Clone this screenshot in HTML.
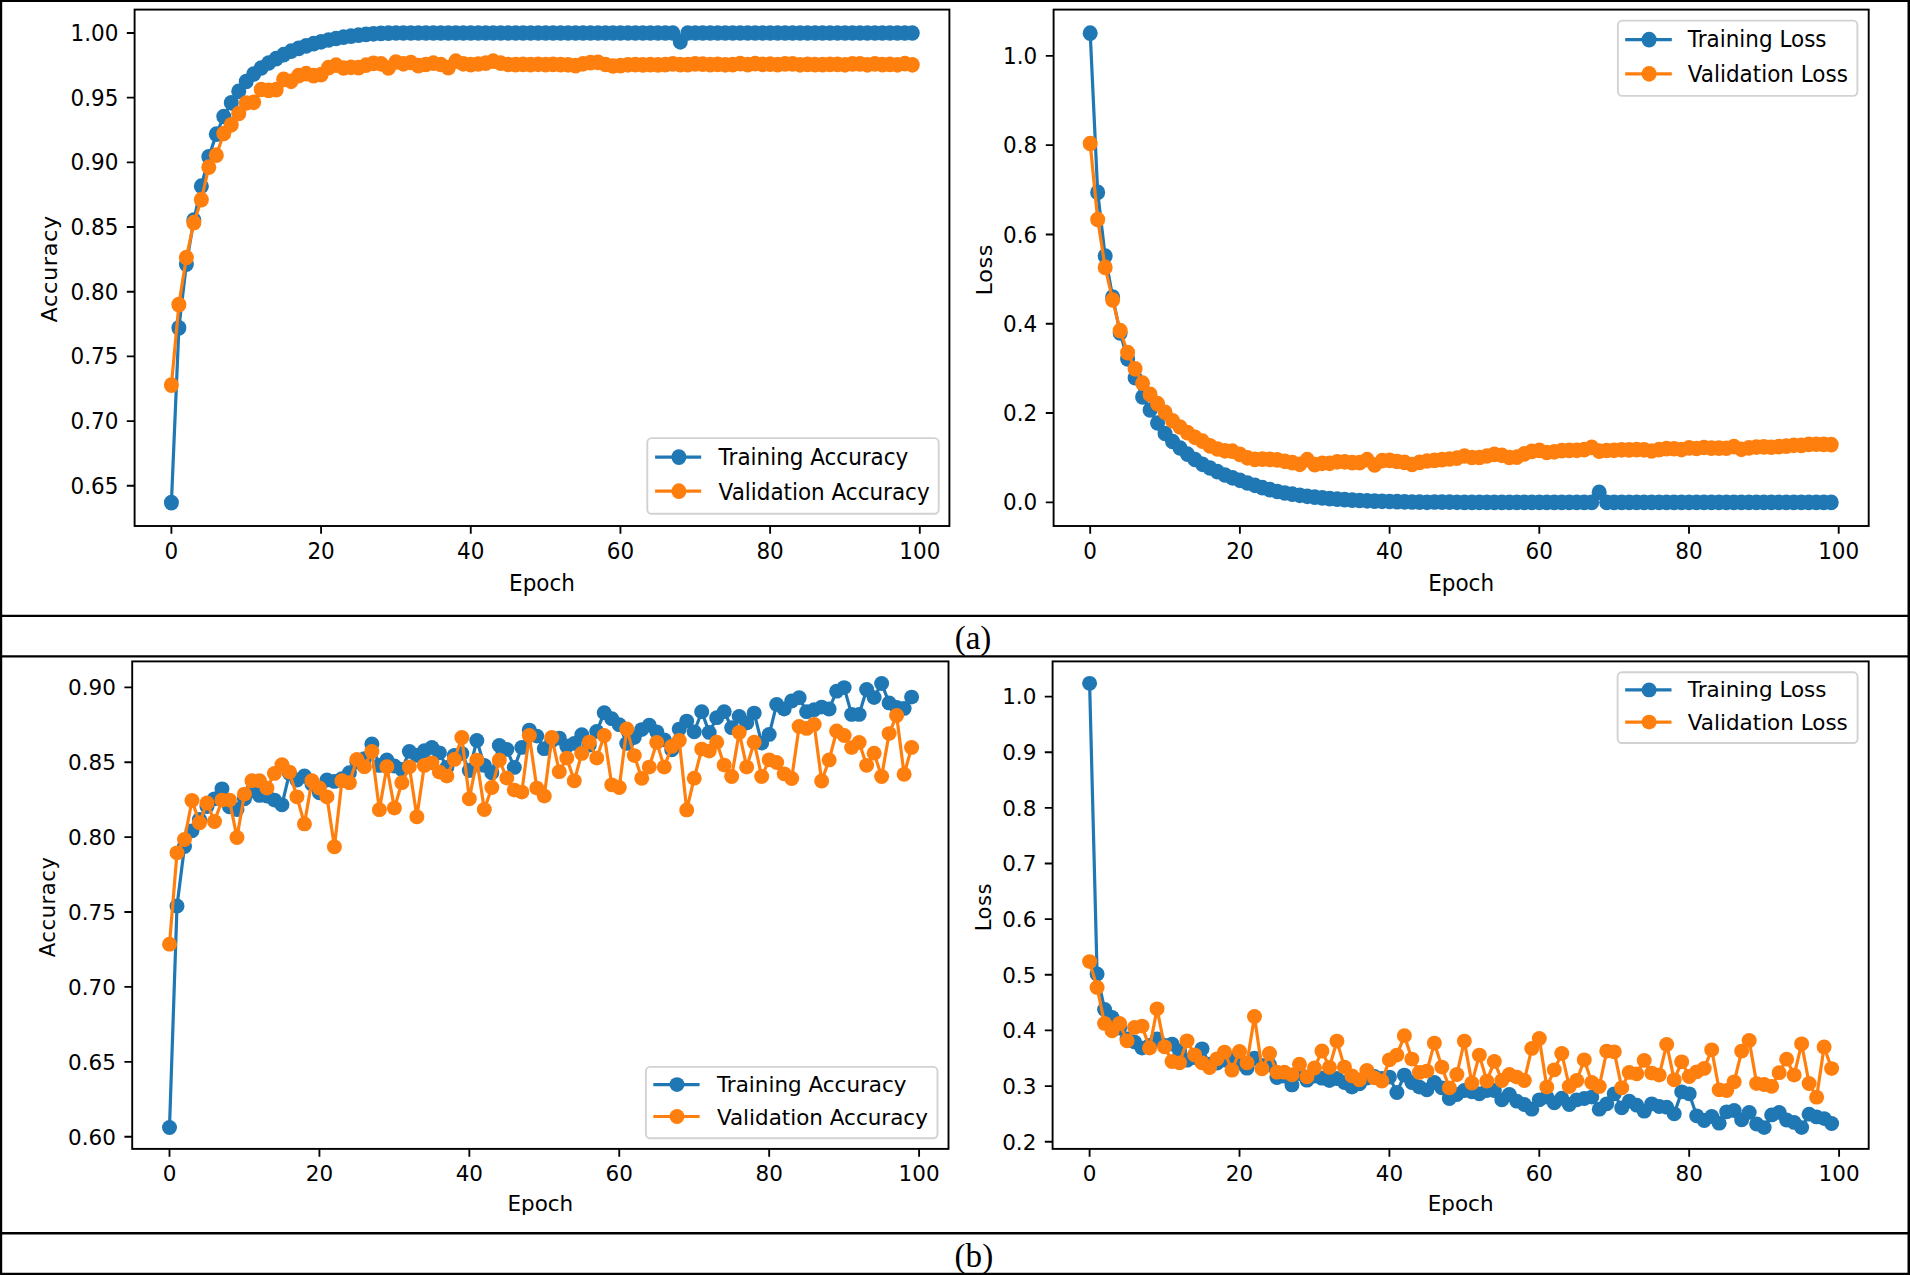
<!DOCTYPE html>
<html><head><meta charset="utf-8"><title>Training curves</title>
<style>html,body{margin:0;padding:0;background:#fff}svg{display:block}text{font-family:"DejaVu Sans","Liberation Sans",sans-serif;fill:#000}text.cap{font-family:"Liberation Serif","Times New Roman",serif}</style>
</head><body>
<svg width="1910" height="1275" viewBox="0 0 1910 1275">
<rect width="1910" height="1275" fill="#fff"/>
<g>
<g>
<polyline points="171.4,502.6 178.88,327.9 186.37,264.1 193.85,220 201.34,186.2 208.82,156.8 216.3,134.2 223.79,116.5 231.27,102.8 238.76,91.3 246.24,81.5 253.72,74 261.21,68 268.69,63 276.18,58.6 283.66,54.7 291.14,51.2 298.63,48.4 306.11,45.9 313.6,43.7 321.08,41.8 328.56,40 336.05,38.5 343.53,37.2 351.02,36.1 358.5,35.2 365.98,34.4 373.47,33.8 380.95,33.4 388.44,33.2 395.92,33 403.4,33 410.89,33 418.37,33 425.86,33 433.34,33 440.82,33 448.31,33 455.79,33 463.28,33 470.76,33 478.24,33 485.73,33 493.21,33 500.7,33 508.18,33 515.66,33 523.15,33 530.63,33 538.12,33 545.6,33 553.08,33 560.57,33 568.05,33 575.54,33 583.02,33 590.5,33 597.99,33 605.47,33 612.96,33 620.44,33 627.92,33 635.41,33 642.89,33 650.38,33 657.86,33 665.34,33 672.83,33 680.31,41.8 687.8,33 695.28,33 702.76,33 710.25,33 717.73,33 725.22,33 732.7,33 740.18,33 747.67,33 755.15,33 762.64,33 770.12,33 777.6,33 785.09,33 792.57,33 800.06,33 807.54,33 815.02,33 822.51,33 829.99,33 837.48,33 844.96,33 852.44,33 859.93,33 867.41,33 874.9,33 882.38,33 889.86,33 897.35,33 904.83,33 912.32,33" fill="none" stroke="#1f77b4" stroke-width="3.2" stroke-linejoin="round"/>
<g fill="#1f77b4"><ellipse cx="171.4" cy="502.6" rx="7.5" ry="7.85"/><ellipse cx="178.88" cy="327.9" rx="7.5" ry="7.85"/><ellipse cx="186.37" cy="264.1" rx="7.5" ry="7.85"/><ellipse cx="193.85" cy="220" rx="7.5" ry="7.85"/><ellipse cx="201.34" cy="186.2" rx="7.5" ry="7.85"/><ellipse cx="208.82" cy="156.8" rx="7.5" ry="7.85"/><ellipse cx="216.3" cy="134.2" rx="7.5" ry="7.85"/><ellipse cx="223.79" cy="116.5" rx="7.5" ry="7.85"/><ellipse cx="231.27" cy="102.8" rx="7.5" ry="7.85"/><ellipse cx="238.76" cy="91.3" rx="7.5" ry="7.85"/><ellipse cx="246.24" cy="81.5" rx="7.5" ry="7.85"/><ellipse cx="253.72" cy="74" rx="7.5" ry="7.85"/><ellipse cx="261.21" cy="68" rx="7.5" ry="7.85"/><ellipse cx="268.69" cy="63" rx="7.5" ry="7.85"/><ellipse cx="276.18" cy="58.6" rx="7.5" ry="7.85"/><ellipse cx="283.66" cy="54.7" rx="7.5" ry="7.85"/><ellipse cx="291.14" cy="51.2" rx="7.5" ry="7.85"/><ellipse cx="298.63" cy="48.4" rx="7.5" ry="7.85"/><ellipse cx="306.11" cy="45.9" rx="7.5" ry="7.85"/><ellipse cx="313.6" cy="43.7" rx="7.5" ry="7.85"/><ellipse cx="321.08" cy="41.8" rx="7.5" ry="7.85"/><ellipse cx="328.56" cy="40" rx="7.5" ry="7.85"/><ellipse cx="336.05" cy="38.5" rx="7.5" ry="7.85"/><ellipse cx="343.53" cy="37.2" rx="7.5" ry="7.85"/><ellipse cx="351.02" cy="36.1" rx="7.5" ry="7.85"/><ellipse cx="358.5" cy="35.2" rx="7.5" ry="7.85"/><ellipse cx="365.98" cy="34.4" rx="7.5" ry="7.85"/><ellipse cx="373.47" cy="33.8" rx="7.5" ry="7.85"/><ellipse cx="380.95" cy="33.4" rx="7.5" ry="7.85"/><ellipse cx="388.44" cy="33.2" rx="7.5" ry="7.85"/><ellipse cx="395.92" cy="33" rx="7.5" ry="7.85"/><ellipse cx="403.4" cy="33" rx="7.5" ry="7.85"/><ellipse cx="410.89" cy="33" rx="7.5" ry="7.85"/><ellipse cx="418.37" cy="33" rx="7.5" ry="7.85"/><ellipse cx="425.86" cy="33" rx="7.5" ry="7.85"/><ellipse cx="433.34" cy="33" rx="7.5" ry="7.85"/><ellipse cx="440.82" cy="33" rx="7.5" ry="7.85"/><ellipse cx="448.31" cy="33" rx="7.5" ry="7.85"/><ellipse cx="455.79" cy="33" rx="7.5" ry="7.85"/><ellipse cx="463.28" cy="33" rx="7.5" ry="7.85"/><ellipse cx="470.76" cy="33" rx="7.5" ry="7.85"/><ellipse cx="478.24" cy="33" rx="7.5" ry="7.85"/><ellipse cx="485.73" cy="33" rx="7.5" ry="7.85"/><ellipse cx="493.21" cy="33" rx="7.5" ry="7.85"/><ellipse cx="500.7" cy="33" rx="7.5" ry="7.85"/><ellipse cx="508.18" cy="33" rx="7.5" ry="7.85"/><ellipse cx="515.66" cy="33" rx="7.5" ry="7.85"/><ellipse cx="523.15" cy="33" rx="7.5" ry="7.85"/><ellipse cx="530.63" cy="33" rx="7.5" ry="7.85"/><ellipse cx="538.12" cy="33" rx="7.5" ry="7.85"/><ellipse cx="545.6" cy="33" rx="7.5" ry="7.85"/><ellipse cx="553.08" cy="33" rx="7.5" ry="7.85"/><ellipse cx="560.57" cy="33" rx="7.5" ry="7.85"/><ellipse cx="568.05" cy="33" rx="7.5" ry="7.85"/><ellipse cx="575.54" cy="33" rx="7.5" ry="7.85"/><ellipse cx="583.02" cy="33" rx="7.5" ry="7.85"/><ellipse cx="590.5" cy="33" rx="7.5" ry="7.85"/><ellipse cx="597.99" cy="33" rx="7.5" ry="7.85"/><ellipse cx="605.47" cy="33" rx="7.5" ry="7.85"/><ellipse cx="612.96" cy="33" rx="7.5" ry="7.85"/><ellipse cx="620.44" cy="33" rx="7.5" ry="7.85"/><ellipse cx="627.92" cy="33" rx="7.5" ry="7.85"/><ellipse cx="635.41" cy="33" rx="7.5" ry="7.85"/><ellipse cx="642.89" cy="33" rx="7.5" ry="7.85"/><ellipse cx="650.38" cy="33" rx="7.5" ry="7.85"/><ellipse cx="657.86" cy="33" rx="7.5" ry="7.85"/><ellipse cx="665.34" cy="33" rx="7.5" ry="7.85"/><ellipse cx="672.83" cy="33" rx="7.5" ry="7.85"/><ellipse cx="680.31" cy="41.8" rx="7.5" ry="7.85"/><ellipse cx="687.8" cy="33" rx="7.5" ry="7.85"/><ellipse cx="695.28" cy="33" rx="7.5" ry="7.85"/><ellipse cx="702.76" cy="33" rx="7.5" ry="7.85"/><ellipse cx="710.25" cy="33" rx="7.5" ry="7.85"/><ellipse cx="717.73" cy="33" rx="7.5" ry="7.85"/><ellipse cx="725.22" cy="33" rx="7.5" ry="7.85"/><ellipse cx="732.7" cy="33" rx="7.5" ry="7.85"/><ellipse cx="740.18" cy="33" rx="7.5" ry="7.85"/><ellipse cx="747.67" cy="33" rx="7.5" ry="7.85"/><ellipse cx="755.15" cy="33" rx="7.5" ry="7.85"/><ellipse cx="762.64" cy="33" rx="7.5" ry="7.85"/><ellipse cx="770.12" cy="33" rx="7.5" ry="7.85"/><ellipse cx="777.6" cy="33" rx="7.5" ry="7.85"/><ellipse cx="785.09" cy="33" rx="7.5" ry="7.85"/><ellipse cx="792.57" cy="33" rx="7.5" ry="7.85"/><ellipse cx="800.06" cy="33" rx="7.5" ry="7.85"/><ellipse cx="807.54" cy="33" rx="7.5" ry="7.85"/><ellipse cx="815.02" cy="33" rx="7.5" ry="7.85"/><ellipse cx="822.51" cy="33" rx="7.5" ry="7.85"/><ellipse cx="829.99" cy="33" rx="7.5" ry="7.85"/><ellipse cx="837.48" cy="33" rx="7.5" ry="7.85"/><ellipse cx="844.96" cy="33" rx="7.5" ry="7.85"/><ellipse cx="852.44" cy="33" rx="7.5" ry="7.85"/><ellipse cx="859.93" cy="33" rx="7.5" ry="7.85"/><ellipse cx="867.41" cy="33" rx="7.5" ry="7.85"/><ellipse cx="874.9" cy="33" rx="7.5" ry="7.85"/><ellipse cx="882.38" cy="33" rx="7.5" ry="7.85"/><ellipse cx="889.86" cy="33" rx="7.5" ry="7.85"/><ellipse cx="897.35" cy="33" rx="7.5" ry="7.85"/><ellipse cx="904.83" cy="33" rx="7.5" ry="7.85"/><ellipse cx="912.32" cy="33" rx="7.5" ry="7.85"/></g>
<polyline points="171.4,385.1 178.88,304.6 186.37,257.5 193.85,222.7 201.34,199.7 208.82,167.2 216.3,155.2 223.79,133.5 231.27,124.8 238.76,113.5 246.24,103 253.72,102.3 261.21,89.5 268.69,90.4 276.18,89.7 283.66,79.4 291.14,81.3 298.63,75.6 306.11,73.7 313.6,75.6 321.08,74.7 328.56,67.6 336.05,65.2 343.53,68 351.02,67.3 358.5,67.6 365.98,65.2 373.47,63.4 380.95,63.8 388.44,68 395.92,62 403.4,63.8 410.89,62.5 418.37,65.6 425.86,64.5 433.34,63.2 440.82,64.5 448.31,67.7 455.79,61.2 463.28,63.8 470.76,64.6 478.24,64 485.73,63.2 493.21,61.2 500.7,63.2 508.18,64.5 515.66,64.6 523.15,64.4 530.63,64.6 538.12,64.3 545.6,64.6 553.08,64.4 560.57,64.6 568.05,64.8 575.54,65.6 583.02,63.8 590.5,62.6 597.99,62.4 605.47,64.5 612.96,66 620.44,65.6 627.92,64.8 635.41,64.6 642.89,64.9 650.38,64.7 657.86,64.9 665.34,64.6 672.83,63.9 680.31,64.6 687.8,64.6 695.28,63.9 702.76,64.2 710.25,64.6 717.73,64.4 725.22,64.8 732.7,64.6 740.18,63.7 747.67,64.6 755.15,63.7 762.64,64.4 770.12,64.2 777.6,64.6 785.09,63.9 792.57,63.9 800.06,64.8 807.54,64.4 815.02,64.6 822.51,64.6 829.99,64.4 837.48,64.4 844.96,64.8 852.44,63.9 859.93,63.9 867.41,64.8 874.9,63.9 882.38,64.6 889.86,64.4 897.35,64.8 904.83,63.7 912.32,64.8" fill="none" stroke="#ff7f0e" stroke-width="3.2" stroke-linejoin="round"/>
<g fill="#ff7f0e"><ellipse cx="171.4" cy="385.1" rx="7.5" ry="7.85"/><ellipse cx="178.88" cy="304.6" rx="7.5" ry="7.85"/><ellipse cx="186.37" cy="257.5" rx="7.5" ry="7.85"/><ellipse cx="193.85" cy="222.7" rx="7.5" ry="7.85"/><ellipse cx="201.34" cy="199.7" rx="7.5" ry="7.85"/><ellipse cx="208.82" cy="167.2" rx="7.5" ry="7.85"/><ellipse cx="216.3" cy="155.2" rx="7.5" ry="7.85"/><ellipse cx="223.79" cy="133.5" rx="7.5" ry="7.85"/><ellipse cx="231.27" cy="124.8" rx="7.5" ry="7.85"/><ellipse cx="238.76" cy="113.5" rx="7.5" ry="7.85"/><ellipse cx="246.24" cy="103" rx="7.5" ry="7.85"/><ellipse cx="253.72" cy="102.3" rx="7.5" ry="7.85"/><ellipse cx="261.21" cy="89.5" rx="7.5" ry="7.85"/><ellipse cx="268.69" cy="90.4" rx="7.5" ry="7.85"/><ellipse cx="276.18" cy="89.7" rx="7.5" ry="7.85"/><ellipse cx="283.66" cy="79.4" rx="7.5" ry="7.85"/><ellipse cx="291.14" cy="81.3" rx="7.5" ry="7.85"/><ellipse cx="298.63" cy="75.6" rx="7.5" ry="7.85"/><ellipse cx="306.11" cy="73.7" rx="7.5" ry="7.85"/><ellipse cx="313.6" cy="75.6" rx="7.5" ry="7.85"/><ellipse cx="321.08" cy="74.7" rx="7.5" ry="7.85"/><ellipse cx="328.56" cy="67.6" rx="7.5" ry="7.85"/><ellipse cx="336.05" cy="65.2" rx="7.5" ry="7.85"/><ellipse cx="343.53" cy="68" rx="7.5" ry="7.85"/><ellipse cx="351.02" cy="67.3" rx="7.5" ry="7.85"/><ellipse cx="358.5" cy="67.6" rx="7.5" ry="7.85"/><ellipse cx="365.98" cy="65.2" rx="7.5" ry="7.85"/><ellipse cx="373.47" cy="63.4" rx="7.5" ry="7.85"/><ellipse cx="380.95" cy="63.8" rx="7.5" ry="7.85"/><ellipse cx="388.44" cy="68" rx="7.5" ry="7.85"/><ellipse cx="395.92" cy="62" rx="7.5" ry="7.85"/><ellipse cx="403.4" cy="63.8" rx="7.5" ry="7.85"/><ellipse cx="410.89" cy="62.5" rx="7.5" ry="7.85"/><ellipse cx="418.37" cy="65.6" rx="7.5" ry="7.85"/><ellipse cx="425.86" cy="64.5" rx="7.5" ry="7.85"/><ellipse cx="433.34" cy="63.2" rx="7.5" ry="7.85"/><ellipse cx="440.82" cy="64.5" rx="7.5" ry="7.85"/><ellipse cx="448.31" cy="67.7" rx="7.5" ry="7.85"/><ellipse cx="455.79" cy="61.2" rx="7.5" ry="7.85"/><ellipse cx="463.28" cy="63.8" rx="7.5" ry="7.85"/><ellipse cx="470.76" cy="64.6" rx="7.5" ry="7.85"/><ellipse cx="478.24" cy="64" rx="7.5" ry="7.85"/><ellipse cx="485.73" cy="63.2" rx="7.5" ry="7.85"/><ellipse cx="493.21" cy="61.2" rx="7.5" ry="7.85"/><ellipse cx="500.7" cy="63.2" rx="7.5" ry="7.85"/><ellipse cx="508.18" cy="64.5" rx="7.5" ry="7.85"/><ellipse cx="515.66" cy="64.6" rx="7.5" ry="7.85"/><ellipse cx="523.15" cy="64.4" rx="7.5" ry="7.85"/><ellipse cx="530.63" cy="64.6" rx="7.5" ry="7.85"/><ellipse cx="538.12" cy="64.3" rx="7.5" ry="7.85"/><ellipse cx="545.6" cy="64.6" rx="7.5" ry="7.85"/><ellipse cx="553.08" cy="64.4" rx="7.5" ry="7.85"/><ellipse cx="560.57" cy="64.6" rx="7.5" ry="7.85"/><ellipse cx="568.05" cy="64.8" rx="7.5" ry="7.85"/><ellipse cx="575.54" cy="65.6" rx="7.5" ry="7.85"/><ellipse cx="583.02" cy="63.8" rx="7.5" ry="7.85"/><ellipse cx="590.5" cy="62.6" rx="7.5" ry="7.85"/><ellipse cx="597.99" cy="62.4" rx="7.5" ry="7.85"/><ellipse cx="605.47" cy="64.5" rx="7.5" ry="7.85"/><ellipse cx="612.96" cy="66" rx="7.5" ry="7.85"/><ellipse cx="620.44" cy="65.6" rx="7.5" ry="7.85"/><ellipse cx="627.92" cy="64.8" rx="7.5" ry="7.85"/><ellipse cx="635.41" cy="64.6" rx="7.5" ry="7.85"/><ellipse cx="642.89" cy="64.9" rx="7.5" ry="7.85"/><ellipse cx="650.38" cy="64.7" rx="7.5" ry="7.85"/><ellipse cx="657.86" cy="64.9" rx="7.5" ry="7.85"/><ellipse cx="665.34" cy="64.6" rx="7.5" ry="7.85"/><ellipse cx="672.83" cy="63.9" rx="7.5" ry="7.85"/><ellipse cx="680.31" cy="64.6" rx="7.5" ry="7.85"/><ellipse cx="687.8" cy="64.6" rx="7.5" ry="7.85"/><ellipse cx="695.28" cy="63.9" rx="7.5" ry="7.85"/><ellipse cx="702.76" cy="64.2" rx="7.5" ry="7.85"/><ellipse cx="710.25" cy="64.6" rx="7.5" ry="7.85"/><ellipse cx="717.73" cy="64.4" rx="7.5" ry="7.85"/><ellipse cx="725.22" cy="64.8" rx="7.5" ry="7.85"/><ellipse cx="732.7" cy="64.6" rx="7.5" ry="7.85"/><ellipse cx="740.18" cy="63.7" rx="7.5" ry="7.85"/><ellipse cx="747.67" cy="64.6" rx="7.5" ry="7.85"/><ellipse cx="755.15" cy="63.7" rx="7.5" ry="7.85"/><ellipse cx="762.64" cy="64.4" rx="7.5" ry="7.85"/><ellipse cx="770.12" cy="64.2" rx="7.5" ry="7.85"/><ellipse cx="777.6" cy="64.6" rx="7.5" ry="7.85"/><ellipse cx="785.09" cy="63.9" rx="7.5" ry="7.85"/><ellipse cx="792.57" cy="63.9" rx="7.5" ry="7.85"/><ellipse cx="800.06" cy="64.8" rx="7.5" ry="7.85"/><ellipse cx="807.54" cy="64.4" rx="7.5" ry="7.85"/><ellipse cx="815.02" cy="64.6" rx="7.5" ry="7.85"/><ellipse cx="822.51" cy="64.6" rx="7.5" ry="7.85"/><ellipse cx="829.99" cy="64.4" rx="7.5" ry="7.85"/><ellipse cx="837.48" cy="64.4" rx="7.5" ry="7.85"/><ellipse cx="844.96" cy="64.8" rx="7.5" ry="7.85"/><ellipse cx="852.44" cy="63.9" rx="7.5" ry="7.85"/><ellipse cx="859.93" cy="63.9" rx="7.5" ry="7.85"/><ellipse cx="867.41" cy="64.8" rx="7.5" ry="7.85"/><ellipse cx="874.9" cy="63.9" rx="7.5" ry="7.85"/><ellipse cx="882.38" cy="64.6" rx="7.5" ry="7.85"/><ellipse cx="889.86" cy="64.4" rx="7.5" ry="7.85"/><ellipse cx="897.35" cy="64.8" rx="7.5" ry="7.85"/><ellipse cx="904.83" cy="63.7" rx="7.5" ry="7.85"/><ellipse cx="912.32" cy="64.8" rx="7.5" ry="7.85"/></g>
<path d="M171.4 526v7.8M321.08 526v7.8M470.76 526v7.8M620.44 526v7.8M770.12 526v7.8M919.8 526v7.8M134.6 485.72h-7.8M134.6 421.05h-7.8M134.6 356.38h-7.8M134.6 291.7h-7.8M134.6 227.02h-7.8M134.6 162.35h-7.8M134.6 97.67h-7.8M134.6 33h-7.8" stroke="#000" stroke-width="1.85" fill="none"/>
<rect x="134.6" y="9.6" width="814.8" height="516.4" fill="none" stroke="#000" stroke-width="1.9"/>
<text transform="translate(171.4,559) scale(1,1.04)" text-anchor="middle" font-size="21.5">0</text>
<text transform="translate(321.08,559) scale(1,1.04)" text-anchor="middle" font-size="21.5">20</text>
<text transform="translate(470.76,559) scale(1,1.04)" text-anchor="middle" font-size="21.5">40</text>
<text transform="translate(620.44,559) scale(1,1.04)" text-anchor="middle" font-size="21.5">60</text>
<text transform="translate(770.12,559) scale(1,1.04)" text-anchor="middle" font-size="21.5">80</text>
<text transform="translate(919.8,559) scale(1,1.04)" text-anchor="middle" font-size="21.5">100</text>
<text transform="translate(118.3,493.82) scale(1,1.04)" text-anchor="end" font-size="21.5">0.65</text>
<text transform="translate(118.3,429.15) scale(1,1.04)" text-anchor="end" font-size="21.5">0.70</text>
<text transform="translate(118.3,364.48) scale(1,1.04)" text-anchor="end" font-size="21.5">0.75</text>
<text transform="translate(118.3,299.8) scale(1,1.04)" text-anchor="end" font-size="21.5">0.80</text>
<text transform="translate(118.3,235.12) scale(1,1.04)" text-anchor="end" font-size="21.5">0.85</text>
<text transform="translate(118.3,170.45) scale(1,1.04)" text-anchor="end" font-size="21.5">0.90</text>
<text transform="translate(118.3,105.77) scale(1,1.04)" text-anchor="end" font-size="21.5">0.95</text>
<text transform="translate(118.3,41.1) scale(1,1.04)" text-anchor="end" font-size="21.5">1.00</text>
<text transform="translate(542,590.5) scale(1,1.04)" text-anchor="middle" font-size="21.5">Epoch</text>
<text transform="translate(56.7,268.8) scale(1,1.04) rotate(-90)" text-anchor="middle" font-size="21.5" letter-spacing="0.65">Accuracy</text>
<rect x="647.3" y="438.1" width="291.4" height="75.7" rx="4.3" ry="4.3" fill="#fff" fill-opacity="0.8" stroke="#d2d2d2" stroke-width="1.9"/>
<path d="M655.1 457.1H701.2" stroke="#1f77b4" stroke-width="3.2"/>
<ellipse cx="678.9" cy="457.1" rx="7.5" ry="7.85" fill="#1f77b4"/>
<text transform="translate(718.6,465.3) scale(1,1.04)" text-anchor="start" font-size="21.5">Training Accuracy</text>
<path d="M655.1 491.2H701.2" stroke="#ff7f0e" stroke-width="3.2"/>
<ellipse cx="678.9" cy="491.2" rx="7.5" ry="7.85" fill="#ff7f0e"/>
<text transform="translate(718.6,499.5) scale(1,1.04)" text-anchor="start" font-size="21.5">Validation Accuracy</text>
</g>
<g>
<polyline points="1090.2,33.2 1097.68,192.4 1105.17,256.1 1112.65,297 1120.14,333 1127.62,358.9 1135.11,377.7 1142.6,397 1150.08,410 1157.57,423 1165.05,433.5 1172.54,441.5 1180.02,448 1187.51,454.2 1194.99,459.5 1202.48,464.3 1209.96,468 1217.45,471.7 1224.93,475 1232.41,477.8 1239.9,480.3 1247.38,483 1254.87,485.3 1262.36,487.7 1269.84,489.6 1277.33,491.5 1284.81,493 1292.3,494.2 1299.78,495.3 1307.27,496.3 1314.75,497.2 1322.24,497.9 1329.72,498.6 1337.21,499.2 1344.69,499.7 1352.18,500.1 1359.66,500.5 1367.14,500.8 1374.63,501.1 1382.12,501.3 1389.6,501.5 1397.09,501.7 1404.57,501.9 1412.06,502 1419.54,502.2 1427.03,502.3 1434.51,502 1442,502.1 1449.48,502.2 1456.97,502.3 1464.45,502.4 1471.93,502.4 1479.42,502.4 1486.91,502.4 1494.39,502.4 1501.88,502.4 1509.36,502.4 1516.85,502.4 1524.33,502.4 1531.82,502.4 1539.3,502.4 1546.79,502.4 1554.27,502.4 1561.76,502.4 1569.24,502.4 1576.73,502.4 1584.21,502.4 1591.7,502.4 1599.18,492.3 1606.66,502.4 1614.15,502.4 1621.64,502.4 1629.12,502.4 1636.61,502.4 1644.09,502.4 1651.58,502.4 1659.06,502.4 1666.55,502.4 1674.03,502.4 1681.52,502.4 1689,502.4 1696.49,502.4 1703.97,502.4 1711.45,502.4 1718.94,502.4 1726.43,502.4 1733.91,502.4 1741.39,502.4 1748.88,502.4 1756.37,502.4 1763.85,502.4 1771.34,502.4 1778.82,502.4 1786.31,502.4 1793.79,502.4 1801.28,502.4 1808.76,502.4 1816.25,502.4 1823.73,502.4 1831.22,502.4" fill="none" stroke="#1f77b4" stroke-width="3.2" stroke-linejoin="round"/>
<g fill="#1f77b4"><ellipse cx="1090.2" cy="33.2" rx="7.5" ry="7.85"/><ellipse cx="1097.68" cy="192.4" rx="7.5" ry="7.85"/><ellipse cx="1105.17" cy="256.1" rx="7.5" ry="7.85"/><ellipse cx="1112.65" cy="297" rx="7.5" ry="7.85"/><ellipse cx="1120.14" cy="333" rx="7.5" ry="7.85"/><ellipse cx="1127.62" cy="358.9" rx="7.5" ry="7.85"/><ellipse cx="1135.11" cy="377.7" rx="7.5" ry="7.85"/><ellipse cx="1142.6" cy="397" rx="7.5" ry="7.85"/><ellipse cx="1150.08" cy="410" rx="7.5" ry="7.85"/><ellipse cx="1157.57" cy="423" rx="7.5" ry="7.85"/><ellipse cx="1165.05" cy="433.5" rx="7.5" ry="7.85"/><ellipse cx="1172.54" cy="441.5" rx="7.5" ry="7.85"/><ellipse cx="1180.02" cy="448" rx="7.5" ry="7.85"/><ellipse cx="1187.51" cy="454.2" rx="7.5" ry="7.85"/><ellipse cx="1194.99" cy="459.5" rx="7.5" ry="7.85"/><ellipse cx="1202.48" cy="464.3" rx="7.5" ry="7.85"/><ellipse cx="1209.96" cy="468" rx="7.5" ry="7.85"/><ellipse cx="1217.45" cy="471.7" rx="7.5" ry="7.85"/><ellipse cx="1224.93" cy="475" rx="7.5" ry="7.85"/><ellipse cx="1232.41" cy="477.8" rx="7.5" ry="7.85"/><ellipse cx="1239.9" cy="480.3" rx="7.5" ry="7.85"/><ellipse cx="1247.38" cy="483" rx="7.5" ry="7.85"/><ellipse cx="1254.87" cy="485.3" rx="7.5" ry="7.85"/><ellipse cx="1262.36" cy="487.7" rx="7.5" ry="7.85"/><ellipse cx="1269.84" cy="489.6" rx="7.5" ry="7.85"/><ellipse cx="1277.33" cy="491.5" rx="7.5" ry="7.85"/><ellipse cx="1284.81" cy="493" rx="7.5" ry="7.85"/><ellipse cx="1292.3" cy="494.2" rx="7.5" ry="7.85"/><ellipse cx="1299.78" cy="495.3" rx="7.5" ry="7.85"/><ellipse cx="1307.27" cy="496.3" rx="7.5" ry="7.85"/><ellipse cx="1314.75" cy="497.2" rx="7.5" ry="7.85"/><ellipse cx="1322.24" cy="497.9" rx="7.5" ry="7.85"/><ellipse cx="1329.72" cy="498.6" rx="7.5" ry="7.85"/><ellipse cx="1337.21" cy="499.2" rx="7.5" ry="7.85"/><ellipse cx="1344.69" cy="499.7" rx="7.5" ry="7.85"/><ellipse cx="1352.18" cy="500.1" rx="7.5" ry="7.85"/><ellipse cx="1359.66" cy="500.5" rx="7.5" ry="7.85"/><ellipse cx="1367.14" cy="500.8" rx="7.5" ry="7.85"/><ellipse cx="1374.63" cy="501.1" rx="7.5" ry="7.85"/><ellipse cx="1382.12" cy="501.3" rx="7.5" ry="7.85"/><ellipse cx="1389.6" cy="501.5" rx="7.5" ry="7.85"/><ellipse cx="1397.09" cy="501.7" rx="7.5" ry="7.85"/><ellipse cx="1404.57" cy="501.9" rx="7.5" ry="7.85"/><ellipse cx="1412.06" cy="502" rx="7.5" ry="7.85"/><ellipse cx="1419.54" cy="502.2" rx="7.5" ry="7.85"/><ellipse cx="1427.03" cy="502.3" rx="7.5" ry="7.85"/><ellipse cx="1434.51" cy="502" rx="7.5" ry="7.85"/><ellipse cx="1442" cy="502.1" rx="7.5" ry="7.85"/><ellipse cx="1449.48" cy="502.2" rx="7.5" ry="7.85"/><ellipse cx="1456.97" cy="502.3" rx="7.5" ry="7.85"/><ellipse cx="1464.45" cy="502.4" rx="7.5" ry="7.85"/><ellipse cx="1471.93" cy="502.4" rx="7.5" ry="7.85"/><ellipse cx="1479.42" cy="502.4" rx="7.5" ry="7.85"/><ellipse cx="1486.91" cy="502.4" rx="7.5" ry="7.85"/><ellipse cx="1494.39" cy="502.4" rx="7.5" ry="7.85"/><ellipse cx="1501.88" cy="502.4" rx="7.5" ry="7.85"/><ellipse cx="1509.36" cy="502.4" rx="7.5" ry="7.85"/><ellipse cx="1516.85" cy="502.4" rx="7.5" ry="7.85"/><ellipse cx="1524.33" cy="502.4" rx="7.5" ry="7.85"/><ellipse cx="1531.82" cy="502.4" rx="7.5" ry="7.85"/><ellipse cx="1539.3" cy="502.4" rx="7.5" ry="7.85"/><ellipse cx="1546.79" cy="502.4" rx="7.5" ry="7.85"/><ellipse cx="1554.27" cy="502.4" rx="7.5" ry="7.85"/><ellipse cx="1561.76" cy="502.4" rx="7.5" ry="7.85"/><ellipse cx="1569.24" cy="502.4" rx="7.5" ry="7.85"/><ellipse cx="1576.73" cy="502.4" rx="7.5" ry="7.85"/><ellipse cx="1584.21" cy="502.4" rx="7.5" ry="7.85"/><ellipse cx="1591.7" cy="502.4" rx="7.5" ry="7.85"/><ellipse cx="1599.18" cy="492.3" rx="7.5" ry="7.85"/><ellipse cx="1606.66" cy="502.4" rx="7.5" ry="7.85"/><ellipse cx="1614.15" cy="502.4" rx="7.5" ry="7.85"/><ellipse cx="1621.64" cy="502.4" rx="7.5" ry="7.85"/><ellipse cx="1629.12" cy="502.4" rx="7.5" ry="7.85"/><ellipse cx="1636.61" cy="502.4" rx="7.5" ry="7.85"/><ellipse cx="1644.09" cy="502.4" rx="7.5" ry="7.85"/><ellipse cx="1651.58" cy="502.4" rx="7.5" ry="7.85"/><ellipse cx="1659.06" cy="502.4" rx="7.5" ry="7.85"/><ellipse cx="1666.55" cy="502.4" rx="7.5" ry="7.85"/><ellipse cx="1674.03" cy="502.4" rx="7.5" ry="7.85"/><ellipse cx="1681.52" cy="502.4" rx="7.5" ry="7.85"/><ellipse cx="1689" cy="502.4" rx="7.5" ry="7.85"/><ellipse cx="1696.49" cy="502.4" rx="7.5" ry="7.85"/><ellipse cx="1703.97" cy="502.4" rx="7.5" ry="7.85"/><ellipse cx="1711.45" cy="502.4" rx="7.5" ry="7.85"/><ellipse cx="1718.94" cy="502.4" rx="7.5" ry="7.85"/><ellipse cx="1726.43" cy="502.4" rx="7.5" ry="7.85"/><ellipse cx="1733.91" cy="502.4" rx="7.5" ry="7.85"/><ellipse cx="1741.39" cy="502.4" rx="7.5" ry="7.85"/><ellipse cx="1748.88" cy="502.4" rx="7.5" ry="7.85"/><ellipse cx="1756.37" cy="502.4" rx="7.5" ry="7.85"/><ellipse cx="1763.85" cy="502.4" rx="7.5" ry="7.85"/><ellipse cx="1771.34" cy="502.4" rx="7.5" ry="7.85"/><ellipse cx="1778.82" cy="502.4" rx="7.5" ry="7.85"/><ellipse cx="1786.31" cy="502.4" rx="7.5" ry="7.85"/><ellipse cx="1793.79" cy="502.4" rx="7.5" ry="7.85"/><ellipse cx="1801.28" cy="502.4" rx="7.5" ry="7.85"/><ellipse cx="1808.76" cy="502.4" rx="7.5" ry="7.85"/><ellipse cx="1816.25" cy="502.4" rx="7.5" ry="7.85"/><ellipse cx="1823.73" cy="502.4" rx="7.5" ry="7.85"/><ellipse cx="1831.22" cy="502.4" rx="7.5" ry="7.85"/></g>
<polyline points="1090.2,143.5 1097.68,219.5 1105.17,267.4 1112.65,300 1120.14,330.6 1127.62,352.6 1135.11,368.8 1142.6,383.2 1150.08,394.4 1157.57,403.7 1165.05,412.3 1172.54,420.8 1180.02,427 1187.51,432.6 1194.99,437.3 1202.48,441.2 1209.96,445.9 1217.45,449 1224.93,450.8 1232.41,451.2 1239.9,454.4 1247.38,457.8 1254.87,459.4 1262.36,459.1 1269.84,459.4 1277.33,459.9 1284.81,461.3 1292.3,462.6 1299.78,464.3 1307.27,459.7 1314.75,464.6 1322.24,463.3 1329.72,463.3 1337.21,461.8 1344.69,461.8 1352.18,462.6 1359.66,462.6 1367.14,459.7 1374.63,465 1382.12,460.7 1389.6,460.4 1397.09,461.5 1404.57,462.4 1412.06,464.5 1419.54,462.4 1427.03,461 1434.51,460.4 1442,459.7 1449.48,459 1456.97,458.2 1464.45,456 1471.93,457.5 1479.42,457.5 1486.91,456 1494.39,454.4 1501.88,455.3 1509.36,457.5 1516.85,457.2 1524.33,453.9 1531.82,451.4 1539.3,450.4 1546.79,452.5 1554.27,451.8 1561.76,450.7 1569.24,450.4 1576.73,450.3 1584.21,449.7 1591.7,447.3 1599.18,451.1 1606.66,450.5 1614.15,450.3 1621.64,449.8 1629.12,449.9 1636.61,449.7 1644.09,449.8 1651.58,451 1659.06,449.6 1666.55,448.58 1674.03,448.77 1681.52,449.55 1689,447.93 1696.49,448.51 1703.97,447.5 1711.45,448.08 1718.94,448.16 1726.43,448.24 1733.91,446.6 1741.39,449.3 1748.88,447.89 1756.37,447.07 1763.85,446.86 1771.34,447.24 1778.82,446.72 1786.31,446.2 1793.79,445.29 1801.28,445.47 1808.76,444.45 1816.25,444.23 1823.73,444.42 1831.22,444.6" fill="none" stroke="#ff7f0e" stroke-width="3.2" stroke-linejoin="round"/>
<g fill="#ff7f0e"><ellipse cx="1090.2" cy="143.5" rx="7.5" ry="7.85"/><ellipse cx="1097.68" cy="219.5" rx="7.5" ry="7.85"/><ellipse cx="1105.17" cy="267.4" rx="7.5" ry="7.85"/><ellipse cx="1112.65" cy="300" rx="7.5" ry="7.85"/><ellipse cx="1120.14" cy="330.6" rx="7.5" ry="7.85"/><ellipse cx="1127.62" cy="352.6" rx="7.5" ry="7.85"/><ellipse cx="1135.11" cy="368.8" rx="7.5" ry="7.85"/><ellipse cx="1142.6" cy="383.2" rx="7.5" ry="7.85"/><ellipse cx="1150.08" cy="394.4" rx="7.5" ry="7.85"/><ellipse cx="1157.57" cy="403.7" rx="7.5" ry="7.85"/><ellipse cx="1165.05" cy="412.3" rx="7.5" ry="7.85"/><ellipse cx="1172.54" cy="420.8" rx="7.5" ry="7.85"/><ellipse cx="1180.02" cy="427" rx="7.5" ry="7.85"/><ellipse cx="1187.51" cy="432.6" rx="7.5" ry="7.85"/><ellipse cx="1194.99" cy="437.3" rx="7.5" ry="7.85"/><ellipse cx="1202.48" cy="441.2" rx="7.5" ry="7.85"/><ellipse cx="1209.96" cy="445.9" rx="7.5" ry="7.85"/><ellipse cx="1217.45" cy="449" rx="7.5" ry="7.85"/><ellipse cx="1224.93" cy="450.8" rx="7.5" ry="7.85"/><ellipse cx="1232.41" cy="451.2" rx="7.5" ry="7.85"/><ellipse cx="1239.9" cy="454.4" rx="7.5" ry="7.85"/><ellipse cx="1247.38" cy="457.8" rx="7.5" ry="7.85"/><ellipse cx="1254.87" cy="459.4" rx="7.5" ry="7.85"/><ellipse cx="1262.36" cy="459.1" rx="7.5" ry="7.85"/><ellipse cx="1269.84" cy="459.4" rx="7.5" ry="7.85"/><ellipse cx="1277.33" cy="459.9" rx="7.5" ry="7.85"/><ellipse cx="1284.81" cy="461.3" rx="7.5" ry="7.85"/><ellipse cx="1292.3" cy="462.6" rx="7.5" ry="7.85"/><ellipse cx="1299.78" cy="464.3" rx="7.5" ry="7.85"/><ellipse cx="1307.27" cy="459.7" rx="7.5" ry="7.85"/><ellipse cx="1314.75" cy="464.6" rx="7.5" ry="7.85"/><ellipse cx="1322.24" cy="463.3" rx="7.5" ry="7.85"/><ellipse cx="1329.72" cy="463.3" rx="7.5" ry="7.85"/><ellipse cx="1337.21" cy="461.8" rx="7.5" ry="7.85"/><ellipse cx="1344.69" cy="461.8" rx="7.5" ry="7.85"/><ellipse cx="1352.18" cy="462.6" rx="7.5" ry="7.85"/><ellipse cx="1359.66" cy="462.6" rx="7.5" ry="7.85"/><ellipse cx="1367.14" cy="459.7" rx="7.5" ry="7.85"/><ellipse cx="1374.63" cy="465" rx="7.5" ry="7.85"/><ellipse cx="1382.12" cy="460.7" rx="7.5" ry="7.85"/><ellipse cx="1389.6" cy="460.4" rx="7.5" ry="7.85"/><ellipse cx="1397.09" cy="461.5" rx="7.5" ry="7.85"/><ellipse cx="1404.57" cy="462.4" rx="7.5" ry="7.85"/><ellipse cx="1412.06" cy="464.5" rx="7.5" ry="7.85"/><ellipse cx="1419.54" cy="462.4" rx="7.5" ry="7.85"/><ellipse cx="1427.03" cy="461" rx="7.5" ry="7.85"/><ellipse cx="1434.51" cy="460.4" rx="7.5" ry="7.85"/><ellipse cx="1442" cy="459.7" rx="7.5" ry="7.85"/><ellipse cx="1449.48" cy="459" rx="7.5" ry="7.85"/><ellipse cx="1456.97" cy="458.2" rx="7.5" ry="7.85"/><ellipse cx="1464.45" cy="456" rx="7.5" ry="7.85"/><ellipse cx="1471.93" cy="457.5" rx="7.5" ry="7.85"/><ellipse cx="1479.42" cy="457.5" rx="7.5" ry="7.85"/><ellipse cx="1486.91" cy="456" rx="7.5" ry="7.85"/><ellipse cx="1494.39" cy="454.4" rx="7.5" ry="7.85"/><ellipse cx="1501.88" cy="455.3" rx="7.5" ry="7.85"/><ellipse cx="1509.36" cy="457.5" rx="7.5" ry="7.85"/><ellipse cx="1516.85" cy="457.2" rx="7.5" ry="7.85"/><ellipse cx="1524.33" cy="453.9" rx="7.5" ry="7.85"/><ellipse cx="1531.82" cy="451.4" rx="7.5" ry="7.85"/><ellipse cx="1539.3" cy="450.4" rx="7.5" ry="7.85"/><ellipse cx="1546.79" cy="452.5" rx="7.5" ry="7.85"/><ellipse cx="1554.27" cy="451.8" rx="7.5" ry="7.85"/><ellipse cx="1561.76" cy="450.7" rx="7.5" ry="7.85"/><ellipse cx="1569.24" cy="450.4" rx="7.5" ry="7.85"/><ellipse cx="1576.73" cy="450.3" rx="7.5" ry="7.85"/><ellipse cx="1584.21" cy="449.7" rx="7.5" ry="7.85"/><ellipse cx="1591.7" cy="447.3" rx="7.5" ry="7.85"/><ellipse cx="1599.18" cy="451.1" rx="7.5" ry="7.85"/><ellipse cx="1606.66" cy="450.5" rx="7.5" ry="7.85"/><ellipse cx="1614.15" cy="450.3" rx="7.5" ry="7.85"/><ellipse cx="1621.64" cy="449.8" rx="7.5" ry="7.85"/><ellipse cx="1629.12" cy="449.9" rx="7.5" ry="7.85"/><ellipse cx="1636.61" cy="449.7" rx="7.5" ry="7.85"/><ellipse cx="1644.09" cy="449.8" rx="7.5" ry="7.85"/><ellipse cx="1651.58" cy="451" rx="7.5" ry="7.85"/><ellipse cx="1659.06" cy="449.6" rx="7.5" ry="7.85"/><ellipse cx="1666.55" cy="448.58" rx="7.5" ry="7.85"/><ellipse cx="1674.03" cy="448.77" rx="7.5" ry="7.85"/><ellipse cx="1681.52" cy="449.55" rx="7.5" ry="7.85"/><ellipse cx="1689" cy="447.93" rx="7.5" ry="7.85"/><ellipse cx="1696.49" cy="448.51" rx="7.5" ry="7.85"/><ellipse cx="1703.97" cy="447.5" rx="7.5" ry="7.85"/><ellipse cx="1711.45" cy="448.08" rx="7.5" ry="7.85"/><ellipse cx="1718.94" cy="448.16" rx="7.5" ry="7.85"/><ellipse cx="1726.43" cy="448.24" rx="7.5" ry="7.85"/><ellipse cx="1733.91" cy="446.6" rx="7.5" ry="7.85"/><ellipse cx="1741.39" cy="449.3" rx="7.5" ry="7.85"/><ellipse cx="1748.88" cy="447.89" rx="7.5" ry="7.85"/><ellipse cx="1756.37" cy="447.07" rx="7.5" ry="7.85"/><ellipse cx="1763.85" cy="446.86" rx="7.5" ry="7.85"/><ellipse cx="1771.34" cy="447.24" rx="7.5" ry="7.85"/><ellipse cx="1778.82" cy="446.72" rx="7.5" ry="7.85"/><ellipse cx="1786.31" cy="446.2" rx="7.5" ry="7.85"/><ellipse cx="1793.79" cy="445.29" rx="7.5" ry="7.85"/><ellipse cx="1801.28" cy="445.47" rx="7.5" ry="7.85"/><ellipse cx="1808.76" cy="444.45" rx="7.5" ry="7.85"/><ellipse cx="1816.25" cy="444.23" rx="7.5" ry="7.85"/><ellipse cx="1823.73" cy="444.42" rx="7.5" ry="7.85"/><ellipse cx="1831.22" cy="444.6" rx="7.5" ry="7.85"/></g>
<path d="M1090.2 526v7.8M1239.9 526v7.8M1389.6 526v7.8M1539.3 526v7.8M1689 526v7.8M1838.7 526v7.8M1053.6 502.3h-7.8M1053.6 413.02h-7.8M1053.6 323.74h-7.8M1053.6 234.46h-7.8M1053.6 145.18h-7.8M1053.6 55.9h-7.8" stroke="#000" stroke-width="1.85" fill="none"/>
<rect x="1053.6" y="9.6" width="815.1" height="516.4" fill="none" stroke="#000" stroke-width="1.9"/>
<text transform="translate(1090.2,559) scale(1,1.04)" text-anchor="middle" font-size="21.5">0</text>
<text transform="translate(1239.9,559) scale(1,1.04)" text-anchor="middle" font-size="21.5">20</text>
<text transform="translate(1389.6,559) scale(1,1.04)" text-anchor="middle" font-size="21.5">40</text>
<text transform="translate(1539.3,559) scale(1,1.04)" text-anchor="middle" font-size="21.5">60</text>
<text transform="translate(1689,559) scale(1,1.04)" text-anchor="middle" font-size="21.5">80</text>
<text transform="translate(1838.7,559) scale(1,1.04)" text-anchor="middle" font-size="21.5">100</text>
<text transform="translate(1037.3,510.4) scale(1,1.04)" text-anchor="end" font-size="21.5">0.0</text>
<text transform="translate(1037.3,421.12) scale(1,1.04)" text-anchor="end" font-size="21.5">0.2</text>
<text transform="translate(1037.3,331.84) scale(1,1.04)" text-anchor="end" font-size="21.5">0.4</text>
<text transform="translate(1037.3,242.56) scale(1,1.04)" text-anchor="end" font-size="21.5">0.6</text>
<text transform="translate(1037.3,153.28) scale(1,1.04)" text-anchor="end" font-size="21.5">0.8</text>
<text transform="translate(1037.3,64) scale(1,1.04)" text-anchor="end" font-size="21.5">1.0</text>
<text transform="translate(1461.15,590.5) scale(1,1.04)" text-anchor="middle" font-size="21.5">Epoch</text>
<text transform="translate(991.8,269.8) scale(1,1.04) rotate(-90)" text-anchor="middle" font-size="21.5" letter-spacing="0.6">Loss</text>
<rect x="1617.9" y="20.6" width="239.5" height="75.3" rx="4.3" ry="4.3" fill="#fff" fill-opacity="0.8" stroke="#d2d2d2" stroke-width="1.9"/>
<path d="M1625.2 39.6H1671.8" stroke="#1f77b4" stroke-width="3.2"/>
<ellipse cx="1649.1" cy="39.6" rx="7.5" ry="7.85" fill="#1f77b4"/>
<text transform="translate(1687.8,46.7) scale(1,1.04)" text-anchor="start" font-size="21.5">Training Loss</text>
<path d="M1625.2 73.8H1671.8" stroke="#ff7f0e" stroke-width="3.2"/>
<ellipse cx="1649.1" cy="73.8" rx="7.5" ry="7.85" fill="#ff7f0e"/>
<text transform="translate(1687.8,81.5) scale(1,1.04)" text-anchor="start" font-size="21.5">Validation Loss</text>
</g>
<g>
<polyline points="169.5,1127.5 177,906 184.49,846.5 191.99,830.8 199.48,819.5 206.98,806.5 214.48,798.8 221.97,788.8 229.47,806.8 236.96,809.5 244.46,798.8 251.96,790.8 259.45,795.4 266.95,796 274.44,800.1 281.94,804.8 289.44,773.4 296.93,780 304.43,776 311.92,784 319.42,792.8 326.92,780 334.41,781.4 341.91,778.7 349.4,772.7 356.9,762 364.4,758.7 371.89,744 379.39,765.4 386.88,760 394.38,766 401.88,769.4 409.37,751.4 416.87,755.4 424.36,750.7 431.86,747.4 439.36,752.8 446.85,767.4 454.35,755.4 461.84,753.4 469.34,770.5 476.84,740.5 484.33,765.4 491.83,772.8 499.32,745.4 506.82,749.4 514.32,767.4 521.81,747.4 529.31,730.1 536.8,736.1 544.3,748.7 551.8,740.7 559.29,738.1 566.79,746.1 574.28,743.4 581.78,734.7 589.28,745 596.77,731.4 604.27,712.7 611.76,718.7 619.26,724.7 626.76,743.4 634.25,737.6 641.75,729.6 649.24,725.2 656.74,731.8 664.24,739.8 671.73,749.8 679.23,729.1 686.72,721.1 694.22,731.8 701.72,711.7 709.21,732.4 716.71,717.7 724.2,711.7 731.7,727.7 739.2,716.4 746.69,723.1 754.19,713.1 761.68,743.1 769.18,734.4 776.68,704.4 784.17,709.1 791.67,701 799.16,697.7 806.66,711.7 814.16,709.7 821.65,707.1 829.15,709 836.64,691.2 844.14,687.6 851.64,714.4 859.13,714.4 866.63,689.5 874.12,697.6 881.62,683.5 889.12,702.9 896.61,707.3 904.11,708.4 911.6,697.1" fill="none" stroke="#1f77b4" stroke-width="3.2" stroke-linejoin="round"/>
<g fill="#1f77b4"><ellipse cx="169.5" cy="1127.5" rx="7.5" ry="7.4"/><ellipse cx="177" cy="906" rx="7.5" ry="7.4"/><ellipse cx="184.49" cy="846.5" rx="7.5" ry="7.4"/><ellipse cx="191.99" cy="830.8" rx="7.5" ry="7.4"/><ellipse cx="199.48" cy="819.5" rx="7.5" ry="7.4"/><ellipse cx="206.98" cy="806.5" rx="7.5" ry="7.4"/><ellipse cx="214.48" cy="798.8" rx="7.5" ry="7.4"/><ellipse cx="221.97" cy="788.8" rx="7.5" ry="7.4"/><ellipse cx="229.47" cy="806.8" rx="7.5" ry="7.4"/><ellipse cx="236.96" cy="809.5" rx="7.5" ry="7.4"/><ellipse cx="244.46" cy="798.8" rx="7.5" ry="7.4"/><ellipse cx="251.96" cy="790.8" rx="7.5" ry="7.4"/><ellipse cx="259.45" cy="795.4" rx="7.5" ry="7.4"/><ellipse cx="266.95" cy="796" rx="7.5" ry="7.4"/><ellipse cx="274.44" cy="800.1" rx="7.5" ry="7.4"/><ellipse cx="281.94" cy="804.8" rx="7.5" ry="7.4"/><ellipse cx="289.44" cy="773.4" rx="7.5" ry="7.4"/><ellipse cx="296.93" cy="780" rx="7.5" ry="7.4"/><ellipse cx="304.43" cy="776" rx="7.5" ry="7.4"/><ellipse cx="311.92" cy="784" rx="7.5" ry="7.4"/><ellipse cx="319.42" cy="792.8" rx="7.5" ry="7.4"/><ellipse cx="326.92" cy="780" rx="7.5" ry="7.4"/><ellipse cx="334.41" cy="781.4" rx="7.5" ry="7.4"/><ellipse cx="341.91" cy="778.7" rx="7.5" ry="7.4"/><ellipse cx="349.4" cy="772.7" rx="7.5" ry="7.4"/><ellipse cx="356.9" cy="762" rx="7.5" ry="7.4"/><ellipse cx="364.4" cy="758.7" rx="7.5" ry="7.4"/><ellipse cx="371.89" cy="744" rx="7.5" ry="7.4"/><ellipse cx="379.39" cy="765.4" rx="7.5" ry="7.4"/><ellipse cx="386.88" cy="760" rx="7.5" ry="7.4"/><ellipse cx="394.38" cy="766" rx="7.5" ry="7.4"/><ellipse cx="401.88" cy="769.4" rx="7.5" ry="7.4"/><ellipse cx="409.37" cy="751.4" rx="7.5" ry="7.4"/><ellipse cx="416.87" cy="755.4" rx="7.5" ry="7.4"/><ellipse cx="424.36" cy="750.7" rx="7.5" ry="7.4"/><ellipse cx="431.86" cy="747.4" rx="7.5" ry="7.4"/><ellipse cx="439.36" cy="752.8" rx="7.5" ry="7.4"/><ellipse cx="446.85" cy="767.4" rx="7.5" ry="7.4"/><ellipse cx="454.35" cy="755.4" rx="7.5" ry="7.4"/><ellipse cx="461.84" cy="753.4" rx="7.5" ry="7.4"/><ellipse cx="469.34" cy="770.5" rx="7.5" ry="7.4"/><ellipse cx="476.84" cy="740.5" rx="7.5" ry="7.4"/><ellipse cx="484.33" cy="765.4" rx="7.5" ry="7.4"/><ellipse cx="491.83" cy="772.8" rx="7.5" ry="7.4"/><ellipse cx="499.32" cy="745.4" rx="7.5" ry="7.4"/><ellipse cx="506.82" cy="749.4" rx="7.5" ry="7.4"/><ellipse cx="514.32" cy="767.4" rx="7.5" ry="7.4"/><ellipse cx="521.81" cy="747.4" rx="7.5" ry="7.4"/><ellipse cx="529.31" cy="730.1" rx="7.5" ry="7.4"/><ellipse cx="536.8" cy="736.1" rx="7.5" ry="7.4"/><ellipse cx="544.3" cy="748.7" rx="7.5" ry="7.4"/><ellipse cx="551.8" cy="740.7" rx="7.5" ry="7.4"/><ellipse cx="559.29" cy="738.1" rx="7.5" ry="7.4"/><ellipse cx="566.79" cy="746.1" rx="7.5" ry="7.4"/><ellipse cx="574.28" cy="743.4" rx="7.5" ry="7.4"/><ellipse cx="581.78" cy="734.7" rx="7.5" ry="7.4"/><ellipse cx="589.28" cy="745" rx="7.5" ry="7.4"/><ellipse cx="596.77" cy="731.4" rx="7.5" ry="7.4"/><ellipse cx="604.27" cy="712.7" rx="7.5" ry="7.4"/><ellipse cx="611.76" cy="718.7" rx="7.5" ry="7.4"/><ellipse cx="619.26" cy="724.7" rx="7.5" ry="7.4"/><ellipse cx="626.76" cy="743.4" rx="7.5" ry="7.4"/><ellipse cx="634.25" cy="737.6" rx="7.5" ry="7.4"/><ellipse cx="641.75" cy="729.6" rx="7.5" ry="7.4"/><ellipse cx="649.24" cy="725.2" rx="7.5" ry="7.4"/><ellipse cx="656.74" cy="731.8" rx="7.5" ry="7.4"/><ellipse cx="664.24" cy="739.8" rx="7.5" ry="7.4"/><ellipse cx="671.73" cy="749.8" rx="7.5" ry="7.4"/><ellipse cx="679.23" cy="729.1" rx="7.5" ry="7.4"/><ellipse cx="686.72" cy="721.1" rx="7.5" ry="7.4"/><ellipse cx="694.22" cy="731.8" rx="7.5" ry="7.4"/><ellipse cx="701.72" cy="711.7" rx="7.5" ry="7.4"/><ellipse cx="709.21" cy="732.4" rx="7.5" ry="7.4"/><ellipse cx="716.71" cy="717.7" rx="7.5" ry="7.4"/><ellipse cx="724.2" cy="711.7" rx="7.5" ry="7.4"/><ellipse cx="731.7" cy="727.7" rx="7.5" ry="7.4"/><ellipse cx="739.2" cy="716.4" rx="7.5" ry="7.4"/><ellipse cx="746.69" cy="723.1" rx="7.5" ry="7.4"/><ellipse cx="754.19" cy="713.1" rx="7.5" ry="7.4"/><ellipse cx="761.68" cy="743.1" rx="7.5" ry="7.4"/><ellipse cx="769.18" cy="734.4" rx="7.5" ry="7.4"/><ellipse cx="776.68" cy="704.4" rx="7.5" ry="7.4"/><ellipse cx="784.17" cy="709.1" rx="7.5" ry="7.4"/><ellipse cx="791.67" cy="701" rx="7.5" ry="7.4"/><ellipse cx="799.16" cy="697.7" rx="7.5" ry="7.4"/><ellipse cx="806.66" cy="711.7" rx="7.5" ry="7.4"/><ellipse cx="814.16" cy="709.7" rx="7.5" ry="7.4"/><ellipse cx="821.65" cy="707.1" rx="7.5" ry="7.4"/><ellipse cx="829.15" cy="709" rx="7.5" ry="7.4"/><ellipse cx="836.64" cy="691.2" rx="7.5" ry="7.4"/><ellipse cx="844.14" cy="687.6" rx="7.5" ry="7.4"/><ellipse cx="851.64" cy="714.4" rx="7.5" ry="7.4"/><ellipse cx="859.13" cy="714.4" rx="7.5" ry="7.4"/><ellipse cx="866.63" cy="689.5" rx="7.5" ry="7.4"/><ellipse cx="874.12" cy="697.6" rx="7.5" ry="7.4"/><ellipse cx="881.62" cy="683.5" rx="7.5" ry="7.4"/><ellipse cx="889.12" cy="702.9" rx="7.5" ry="7.4"/><ellipse cx="896.61" cy="707.3" rx="7.5" ry="7.4"/><ellipse cx="904.11" cy="708.4" rx="7.5" ry="7.4"/><ellipse cx="911.6" cy="697.1" rx="7.5" ry="7.4"/></g>
<polyline points="169.5,944.2 177,852.8 184.49,839.5 191.99,800.5 199.48,822.8 206.98,803 214.48,821.5 221.97,800.1 229.47,800.1 236.96,837.5 244.46,794.1 251.96,780.7 259.45,780.7 266.95,788.1 274.44,773.4 281.94,764.7 289.44,772.1 296.93,796.8 304.43,823.9 311.92,780.7 319.42,788 326.92,796.8 334.41,846.8 341.91,780.7 349.4,782.7 356.9,759.4 364.4,766.7 371.89,751.4 379.39,809.7 386.88,766.7 394.38,808.1 401.88,782.7 409.37,766.8 416.87,816.8 424.36,765.4 431.86,762.8 439.36,772.1 446.85,776.1 454.35,759.4 461.84,737.4 469.34,798.8 476.84,760.1 484.33,809.5 491.83,787.5 499.32,760.1 506.82,778.1 514.32,790.1 521.81,792.1 529.31,735.4 536.8,788.1 544.3,796.1 551.8,737.4 559.29,771.7 566.79,758.1 574.28,780.8 581.78,753.4 589.28,742.1 596.77,758.1 604.27,735.4 611.76,784.8 619.26,787.5 626.76,728.9 634.25,755.6 641.75,778.3 649.24,767.1 656.74,742.4 664.24,767.1 671.73,746.4 679.23,740.4 686.72,809.9 694.22,778.2 701.72,749.1 709.21,751.1 716.71,742.2 724.2,765.1 731.7,776.5 739.2,732.4 746.69,767.1 754.19,742.2 761.68,776.5 769.18,759.8 776.68,762.5 784.17,773.8 791.67,778.5 799.16,726.4 806.66,728.4 814.16,724.4 821.65,781 829.15,759.9 836.64,731 844.14,735.5 851.64,747.6 859.13,742.4 866.63,765.3 874.12,753.2 881.62,776.5 889.12,733.6 896.61,715.5 904.11,774.3 911.6,747.4" fill="none" stroke="#ff7f0e" stroke-width="3.2" stroke-linejoin="round"/>
<g fill="#ff7f0e"><ellipse cx="169.5" cy="944.2" rx="7.5" ry="7.4"/><ellipse cx="177" cy="852.8" rx="7.5" ry="7.4"/><ellipse cx="184.49" cy="839.5" rx="7.5" ry="7.4"/><ellipse cx="191.99" cy="800.5" rx="7.5" ry="7.4"/><ellipse cx="199.48" cy="822.8" rx="7.5" ry="7.4"/><ellipse cx="206.98" cy="803" rx="7.5" ry="7.4"/><ellipse cx="214.48" cy="821.5" rx="7.5" ry="7.4"/><ellipse cx="221.97" cy="800.1" rx="7.5" ry="7.4"/><ellipse cx="229.47" cy="800.1" rx="7.5" ry="7.4"/><ellipse cx="236.96" cy="837.5" rx="7.5" ry="7.4"/><ellipse cx="244.46" cy="794.1" rx="7.5" ry="7.4"/><ellipse cx="251.96" cy="780.7" rx="7.5" ry="7.4"/><ellipse cx="259.45" cy="780.7" rx="7.5" ry="7.4"/><ellipse cx="266.95" cy="788.1" rx="7.5" ry="7.4"/><ellipse cx="274.44" cy="773.4" rx="7.5" ry="7.4"/><ellipse cx="281.94" cy="764.7" rx="7.5" ry="7.4"/><ellipse cx="289.44" cy="772.1" rx="7.5" ry="7.4"/><ellipse cx="296.93" cy="796.8" rx="7.5" ry="7.4"/><ellipse cx="304.43" cy="823.9" rx="7.5" ry="7.4"/><ellipse cx="311.92" cy="780.7" rx="7.5" ry="7.4"/><ellipse cx="319.42" cy="788" rx="7.5" ry="7.4"/><ellipse cx="326.92" cy="796.8" rx="7.5" ry="7.4"/><ellipse cx="334.41" cy="846.8" rx="7.5" ry="7.4"/><ellipse cx="341.91" cy="780.7" rx="7.5" ry="7.4"/><ellipse cx="349.4" cy="782.7" rx="7.5" ry="7.4"/><ellipse cx="356.9" cy="759.4" rx="7.5" ry="7.4"/><ellipse cx="364.4" cy="766.7" rx="7.5" ry="7.4"/><ellipse cx="371.89" cy="751.4" rx="7.5" ry="7.4"/><ellipse cx="379.39" cy="809.7" rx="7.5" ry="7.4"/><ellipse cx="386.88" cy="766.7" rx="7.5" ry="7.4"/><ellipse cx="394.38" cy="808.1" rx="7.5" ry="7.4"/><ellipse cx="401.88" cy="782.7" rx="7.5" ry="7.4"/><ellipse cx="409.37" cy="766.8" rx="7.5" ry="7.4"/><ellipse cx="416.87" cy="816.8" rx="7.5" ry="7.4"/><ellipse cx="424.36" cy="765.4" rx="7.5" ry="7.4"/><ellipse cx="431.86" cy="762.8" rx="7.5" ry="7.4"/><ellipse cx="439.36" cy="772.1" rx="7.5" ry="7.4"/><ellipse cx="446.85" cy="776.1" rx="7.5" ry="7.4"/><ellipse cx="454.35" cy="759.4" rx="7.5" ry="7.4"/><ellipse cx="461.84" cy="737.4" rx="7.5" ry="7.4"/><ellipse cx="469.34" cy="798.8" rx="7.5" ry="7.4"/><ellipse cx="476.84" cy="760.1" rx="7.5" ry="7.4"/><ellipse cx="484.33" cy="809.5" rx="7.5" ry="7.4"/><ellipse cx="491.83" cy="787.5" rx="7.5" ry="7.4"/><ellipse cx="499.32" cy="760.1" rx="7.5" ry="7.4"/><ellipse cx="506.82" cy="778.1" rx="7.5" ry="7.4"/><ellipse cx="514.32" cy="790.1" rx="7.5" ry="7.4"/><ellipse cx="521.81" cy="792.1" rx="7.5" ry="7.4"/><ellipse cx="529.31" cy="735.4" rx="7.5" ry="7.4"/><ellipse cx="536.8" cy="788.1" rx="7.5" ry="7.4"/><ellipse cx="544.3" cy="796.1" rx="7.5" ry="7.4"/><ellipse cx="551.8" cy="737.4" rx="7.5" ry="7.4"/><ellipse cx="559.29" cy="771.7" rx="7.5" ry="7.4"/><ellipse cx="566.79" cy="758.1" rx="7.5" ry="7.4"/><ellipse cx="574.28" cy="780.8" rx="7.5" ry="7.4"/><ellipse cx="581.78" cy="753.4" rx="7.5" ry="7.4"/><ellipse cx="589.28" cy="742.1" rx="7.5" ry="7.4"/><ellipse cx="596.77" cy="758.1" rx="7.5" ry="7.4"/><ellipse cx="604.27" cy="735.4" rx="7.5" ry="7.4"/><ellipse cx="611.76" cy="784.8" rx="7.5" ry="7.4"/><ellipse cx="619.26" cy="787.5" rx="7.5" ry="7.4"/><ellipse cx="626.76" cy="728.9" rx="7.5" ry="7.4"/><ellipse cx="634.25" cy="755.6" rx="7.5" ry="7.4"/><ellipse cx="641.75" cy="778.3" rx="7.5" ry="7.4"/><ellipse cx="649.24" cy="767.1" rx="7.5" ry="7.4"/><ellipse cx="656.74" cy="742.4" rx="7.5" ry="7.4"/><ellipse cx="664.24" cy="767.1" rx="7.5" ry="7.4"/><ellipse cx="671.73" cy="746.4" rx="7.5" ry="7.4"/><ellipse cx="679.23" cy="740.4" rx="7.5" ry="7.4"/><ellipse cx="686.72" cy="809.9" rx="7.5" ry="7.4"/><ellipse cx="694.22" cy="778.2" rx="7.5" ry="7.4"/><ellipse cx="701.72" cy="749.1" rx="7.5" ry="7.4"/><ellipse cx="709.21" cy="751.1" rx="7.5" ry="7.4"/><ellipse cx="716.71" cy="742.2" rx="7.5" ry="7.4"/><ellipse cx="724.2" cy="765.1" rx="7.5" ry="7.4"/><ellipse cx="731.7" cy="776.5" rx="7.5" ry="7.4"/><ellipse cx="739.2" cy="732.4" rx="7.5" ry="7.4"/><ellipse cx="746.69" cy="767.1" rx="7.5" ry="7.4"/><ellipse cx="754.19" cy="742.2" rx="7.5" ry="7.4"/><ellipse cx="761.68" cy="776.5" rx="7.5" ry="7.4"/><ellipse cx="769.18" cy="759.8" rx="7.5" ry="7.4"/><ellipse cx="776.68" cy="762.5" rx="7.5" ry="7.4"/><ellipse cx="784.17" cy="773.8" rx="7.5" ry="7.4"/><ellipse cx="791.67" cy="778.5" rx="7.5" ry="7.4"/><ellipse cx="799.16" cy="726.4" rx="7.5" ry="7.4"/><ellipse cx="806.66" cy="728.4" rx="7.5" ry="7.4"/><ellipse cx="814.16" cy="724.4" rx="7.5" ry="7.4"/><ellipse cx="821.65" cy="781" rx="7.5" ry="7.4"/><ellipse cx="829.15" cy="759.9" rx="7.5" ry="7.4"/><ellipse cx="836.64" cy="731" rx="7.5" ry="7.4"/><ellipse cx="844.14" cy="735.5" rx="7.5" ry="7.4"/><ellipse cx="851.64" cy="747.6" rx="7.5" ry="7.4"/><ellipse cx="859.13" cy="742.4" rx="7.5" ry="7.4"/><ellipse cx="866.63" cy="765.3" rx="7.5" ry="7.4"/><ellipse cx="874.12" cy="753.2" rx="7.5" ry="7.4"/><ellipse cx="881.62" cy="776.5" rx="7.5" ry="7.4"/><ellipse cx="889.12" cy="733.6" rx="7.5" ry="7.4"/><ellipse cx="896.61" cy="715.5" rx="7.5" ry="7.4"/><ellipse cx="904.11" cy="774.3" rx="7.5" ry="7.4"/><ellipse cx="911.6" cy="747.4" rx="7.5" ry="7.4"/></g>
<path d="M169.5 1148.9v7.8M319.42 1148.9v7.8M469.34 1148.9v7.8M619.26 1148.9v7.8M769.18 1148.9v7.8M919.1 1148.9v7.8M132.2 1136.7h-7.8M132.2 1061.8h-7.8M132.2 986.9h-7.8M132.2 912h-7.8M132.2 837.1h-7.8M132.2 762.2h-7.8M132.2 687.3h-7.8" stroke="#000" stroke-width="1.85" fill="none"/>
<rect x="132.2" y="661.4" width="816.3" height="487.5" fill="none" stroke="#000" stroke-width="1.9"/>
<text transform="translate(169.5,1180.6) scale(1,0.98)" text-anchor="middle" font-size="21.5">0</text>
<text transform="translate(319.42,1180.6) scale(1,0.98)" text-anchor="middle" font-size="21.5">20</text>
<text transform="translate(469.34,1180.6) scale(1,0.98)" text-anchor="middle" font-size="21.5">40</text>
<text transform="translate(619.26,1180.6) scale(1,0.98)" text-anchor="middle" font-size="21.5">60</text>
<text transform="translate(769.18,1180.6) scale(1,0.98)" text-anchor="middle" font-size="21.5">80</text>
<text transform="translate(919.1,1180.6) scale(1,0.98)" text-anchor="middle" font-size="21.5">100</text>
<text transform="translate(115.9,1144.6) scale(1,0.98)" text-anchor="end" font-size="21.5">0.60</text>
<text transform="translate(115.9,1069.7) scale(1,0.98)" text-anchor="end" font-size="21.5">0.65</text>
<text transform="translate(115.9,994.8) scale(1,0.98)" text-anchor="end" font-size="21.5">0.70</text>
<text transform="translate(115.9,919.9) scale(1,0.98)" text-anchor="end" font-size="21.5">0.75</text>
<text transform="translate(115.9,845) scale(1,0.98)" text-anchor="end" font-size="21.5">0.80</text>
<text transform="translate(115.9,770.1) scale(1,0.98)" text-anchor="end" font-size="21.5">0.85</text>
<text transform="translate(115.9,695.2) scale(1,0.98)" text-anchor="end" font-size="21.5">0.90</text>
<text transform="translate(540.35,1211) scale(1,0.98)" text-anchor="middle" font-size="21.5">Epoch</text>
<text transform="translate(54.7,906.9) scale(1,0.98) rotate(-90)" text-anchor="middle" font-size="21.5" letter-spacing="0.6">Accuracy</text>
<rect x="645.9" y="1066.9" width="291.6" height="71.4" rx="4.3" ry="4.3" fill="#fff" fill-opacity="0.8" stroke="#d2d2d2" stroke-width="1.9"/>
<path d="M653.3 1084.6H699.6" stroke="#1f77b4" stroke-width="3.2"/>
<ellipse cx="677" cy="1084.6" rx="7.5" ry="7.4" fill="#1f77b4"/>
<text transform="translate(716.9,1092.3) scale(1,0.98)" text-anchor="start" font-size="21.5">Training Accuracy</text>
<path d="M653.3 1116.5H699.6" stroke="#ff7f0e" stroke-width="3.2"/>
<ellipse cx="677" cy="1116.5" rx="7.5" ry="7.4" fill="#ff7f0e"/>
<text transform="translate(716.9,1124.6) scale(1,0.98)" text-anchor="start" font-size="21.5">Validation Accuracy</text>
</g>
<g>
<polyline points="1089.6,683.3 1097.09,974 1104.59,1009.4 1112.08,1017.4 1119.58,1028 1127.07,1038.8 1134.57,1042.1 1142.06,1048.1 1149.56,1045.5 1157.05,1038.8 1164.55,1045.5 1172.04,1044.1 1179.54,1050.8 1187.03,1060.2 1194.53,1057.5 1202.02,1048.8 1209.52,1064.2 1217.01,1063 1224.51,1060 1232,1058.8 1239.5,1062.8 1246.99,1068.2 1254.49,1058.2 1261.98,1065.5 1269.48,1064.8 1276.97,1077.5 1284.47,1076.2 1291.96,1084.9 1299.46,1073.5 1306.95,1080.2 1314.45,1076 1321.94,1078.2 1329.44,1080.6 1336.93,1078.5 1344.43,1082.5 1351.92,1087.1 1359.42,1083.8 1366.91,1078 1374.41,1076.5 1381.9,1078.5 1389.4,1077.1 1396.89,1092.5 1404.39,1075.1 1411.88,1082.5 1419.38,1087.1 1426.88,1089.8 1434.37,1082.5 1441.86,1087.8 1449.36,1098.5 1456.86,1094.5 1464.35,1090.5 1471.84,1091.8 1479.34,1093.8 1486.84,1090.5 1494.33,1090.5 1501.82,1099.8 1509.32,1094.5 1516.82,1101.2 1524.31,1104.5 1531.8,1109.2 1539.3,1099.8 1546.79,1097 1554.29,1102.8 1561.78,1098.2 1569.28,1104.5 1576.77,1099.8 1584.27,1098.5 1591.76,1097.1 1599.26,1109.2 1606.75,1103.8 1614.25,1093.8 1621.74,1107.8 1629.24,1101.2 1636.73,1105.2 1644.23,1111.2 1651.72,1103.8 1659.22,1106.5 1666.71,1107.2 1674.21,1113.8 1681.7,1091.8 1689.2,1093.8 1696.69,1115.8 1704.19,1120.5 1711.68,1116.5 1719.18,1123.2 1726.67,1111.8 1734.17,1110.5 1741.66,1119.8 1749.16,1112.4 1756.65,1124 1764.15,1127.6 1771.64,1114.9 1779.14,1112.4 1786.63,1120 1794.13,1122.4 1801.62,1127.6 1809.12,1114.2 1816.61,1116.9 1824.11,1118.6 1831.61,1123.5" fill="none" stroke="#1f77b4" stroke-width="3.2" stroke-linejoin="round"/>
<g fill="#1f77b4"><ellipse cx="1089.6" cy="683.3" rx="7.5" ry="7.4"/><ellipse cx="1097.09" cy="974" rx="7.5" ry="7.4"/><ellipse cx="1104.59" cy="1009.4" rx="7.5" ry="7.4"/><ellipse cx="1112.08" cy="1017.4" rx="7.5" ry="7.4"/><ellipse cx="1119.58" cy="1028" rx="7.5" ry="7.4"/><ellipse cx="1127.07" cy="1038.8" rx="7.5" ry="7.4"/><ellipse cx="1134.57" cy="1042.1" rx="7.5" ry="7.4"/><ellipse cx="1142.06" cy="1048.1" rx="7.5" ry="7.4"/><ellipse cx="1149.56" cy="1045.5" rx="7.5" ry="7.4"/><ellipse cx="1157.05" cy="1038.8" rx="7.5" ry="7.4"/><ellipse cx="1164.55" cy="1045.5" rx="7.5" ry="7.4"/><ellipse cx="1172.04" cy="1044.1" rx="7.5" ry="7.4"/><ellipse cx="1179.54" cy="1050.8" rx="7.5" ry="7.4"/><ellipse cx="1187.03" cy="1060.2" rx="7.5" ry="7.4"/><ellipse cx="1194.53" cy="1057.5" rx="7.5" ry="7.4"/><ellipse cx="1202.02" cy="1048.8" rx="7.5" ry="7.4"/><ellipse cx="1209.52" cy="1064.2" rx="7.5" ry="7.4"/><ellipse cx="1217.01" cy="1063" rx="7.5" ry="7.4"/><ellipse cx="1224.51" cy="1060" rx="7.5" ry="7.4"/><ellipse cx="1232" cy="1058.8" rx="7.5" ry="7.4"/><ellipse cx="1239.5" cy="1062.8" rx="7.5" ry="7.4"/><ellipse cx="1246.99" cy="1068.2" rx="7.5" ry="7.4"/><ellipse cx="1254.49" cy="1058.2" rx="7.5" ry="7.4"/><ellipse cx="1261.98" cy="1065.5" rx="7.5" ry="7.4"/><ellipse cx="1269.48" cy="1064.8" rx="7.5" ry="7.4"/><ellipse cx="1276.97" cy="1077.5" rx="7.5" ry="7.4"/><ellipse cx="1284.47" cy="1076.2" rx="7.5" ry="7.4"/><ellipse cx="1291.96" cy="1084.9" rx="7.5" ry="7.4"/><ellipse cx="1299.46" cy="1073.5" rx="7.5" ry="7.4"/><ellipse cx="1306.95" cy="1080.2" rx="7.5" ry="7.4"/><ellipse cx="1314.45" cy="1076" rx="7.5" ry="7.4"/><ellipse cx="1321.94" cy="1078.2" rx="7.5" ry="7.4"/><ellipse cx="1329.44" cy="1080.6" rx="7.5" ry="7.4"/><ellipse cx="1336.93" cy="1078.5" rx="7.5" ry="7.4"/><ellipse cx="1344.43" cy="1082.5" rx="7.5" ry="7.4"/><ellipse cx="1351.92" cy="1087.1" rx="7.5" ry="7.4"/><ellipse cx="1359.42" cy="1083.8" rx="7.5" ry="7.4"/><ellipse cx="1366.91" cy="1078" rx="7.5" ry="7.4"/><ellipse cx="1374.41" cy="1076.5" rx="7.5" ry="7.4"/><ellipse cx="1381.9" cy="1078.5" rx="7.5" ry="7.4"/><ellipse cx="1389.4" cy="1077.1" rx="7.5" ry="7.4"/><ellipse cx="1396.89" cy="1092.5" rx="7.5" ry="7.4"/><ellipse cx="1404.39" cy="1075.1" rx="7.5" ry="7.4"/><ellipse cx="1411.88" cy="1082.5" rx="7.5" ry="7.4"/><ellipse cx="1419.38" cy="1087.1" rx="7.5" ry="7.4"/><ellipse cx="1426.88" cy="1089.8" rx="7.5" ry="7.4"/><ellipse cx="1434.37" cy="1082.5" rx="7.5" ry="7.4"/><ellipse cx="1441.86" cy="1087.8" rx="7.5" ry="7.4"/><ellipse cx="1449.36" cy="1098.5" rx="7.5" ry="7.4"/><ellipse cx="1456.86" cy="1094.5" rx="7.5" ry="7.4"/><ellipse cx="1464.35" cy="1090.5" rx="7.5" ry="7.4"/><ellipse cx="1471.84" cy="1091.8" rx="7.5" ry="7.4"/><ellipse cx="1479.34" cy="1093.8" rx="7.5" ry="7.4"/><ellipse cx="1486.84" cy="1090.5" rx="7.5" ry="7.4"/><ellipse cx="1494.33" cy="1090.5" rx="7.5" ry="7.4"/><ellipse cx="1501.82" cy="1099.8" rx="7.5" ry="7.4"/><ellipse cx="1509.32" cy="1094.5" rx="7.5" ry="7.4"/><ellipse cx="1516.82" cy="1101.2" rx="7.5" ry="7.4"/><ellipse cx="1524.31" cy="1104.5" rx="7.5" ry="7.4"/><ellipse cx="1531.8" cy="1109.2" rx="7.5" ry="7.4"/><ellipse cx="1539.3" cy="1099.8" rx="7.5" ry="7.4"/><ellipse cx="1546.79" cy="1097" rx="7.5" ry="7.4"/><ellipse cx="1554.29" cy="1102.8" rx="7.5" ry="7.4"/><ellipse cx="1561.78" cy="1098.2" rx="7.5" ry="7.4"/><ellipse cx="1569.28" cy="1104.5" rx="7.5" ry="7.4"/><ellipse cx="1576.77" cy="1099.8" rx="7.5" ry="7.4"/><ellipse cx="1584.27" cy="1098.5" rx="7.5" ry="7.4"/><ellipse cx="1591.76" cy="1097.1" rx="7.5" ry="7.4"/><ellipse cx="1599.26" cy="1109.2" rx="7.5" ry="7.4"/><ellipse cx="1606.75" cy="1103.8" rx="7.5" ry="7.4"/><ellipse cx="1614.25" cy="1093.8" rx="7.5" ry="7.4"/><ellipse cx="1621.74" cy="1107.8" rx="7.5" ry="7.4"/><ellipse cx="1629.24" cy="1101.2" rx="7.5" ry="7.4"/><ellipse cx="1636.73" cy="1105.2" rx="7.5" ry="7.4"/><ellipse cx="1644.23" cy="1111.2" rx="7.5" ry="7.4"/><ellipse cx="1651.72" cy="1103.8" rx="7.5" ry="7.4"/><ellipse cx="1659.22" cy="1106.5" rx="7.5" ry="7.4"/><ellipse cx="1666.71" cy="1107.2" rx="7.5" ry="7.4"/><ellipse cx="1674.21" cy="1113.8" rx="7.5" ry="7.4"/><ellipse cx="1681.7" cy="1091.8" rx="7.5" ry="7.4"/><ellipse cx="1689.2" cy="1093.8" rx="7.5" ry="7.4"/><ellipse cx="1696.69" cy="1115.8" rx="7.5" ry="7.4"/><ellipse cx="1704.19" cy="1120.5" rx="7.5" ry="7.4"/><ellipse cx="1711.68" cy="1116.5" rx="7.5" ry="7.4"/><ellipse cx="1719.18" cy="1123.2" rx="7.5" ry="7.4"/><ellipse cx="1726.67" cy="1111.8" rx="7.5" ry="7.4"/><ellipse cx="1734.17" cy="1110.5" rx="7.5" ry="7.4"/><ellipse cx="1741.66" cy="1119.8" rx="7.5" ry="7.4"/><ellipse cx="1749.16" cy="1112.4" rx="7.5" ry="7.4"/><ellipse cx="1756.65" cy="1124" rx="7.5" ry="7.4"/><ellipse cx="1764.15" cy="1127.6" rx="7.5" ry="7.4"/><ellipse cx="1771.64" cy="1114.9" rx="7.5" ry="7.4"/><ellipse cx="1779.14" cy="1112.4" rx="7.5" ry="7.4"/><ellipse cx="1786.63" cy="1120" rx="7.5" ry="7.4"/><ellipse cx="1794.13" cy="1122.4" rx="7.5" ry="7.4"/><ellipse cx="1801.62" cy="1127.6" rx="7.5" ry="7.4"/><ellipse cx="1809.12" cy="1114.2" rx="7.5" ry="7.4"/><ellipse cx="1816.61" cy="1116.9" rx="7.5" ry="7.4"/><ellipse cx="1824.11" cy="1118.6" rx="7.5" ry="7.4"/><ellipse cx="1831.61" cy="1123.5" rx="7.5" ry="7.4"/></g>
<polyline points="1089.6,961.6 1097.09,987.4 1104.59,1023.4 1112.08,1030.8 1119.58,1023.4 1127.07,1040.8 1134.57,1027.4 1142.06,1026.1 1149.56,1048.1 1157.05,1008.8 1164.55,1046.8 1172.04,1061.5 1179.54,1062.8 1187.03,1040.8 1194.53,1054.8 1202.02,1062.8 1209.52,1067.5 1217.01,1058.8 1224.51,1052.1 1232,1070.2 1239.5,1051.5 1246.99,1062.8 1254.49,1016.4 1261.98,1068.8 1269.48,1053.5 1276.97,1072.2 1284.47,1072.2 1291.96,1074.8 1299.46,1064.2 1306.95,1076.8 1314.45,1068 1321.94,1051 1329.44,1067.3 1336.93,1041.1 1344.43,1067.1 1351.92,1075.8 1359.42,1079.8 1366.91,1070.4 1374.41,1077.8 1381.9,1081.1 1389.4,1059.8 1396.89,1055.1 1404.39,1035.7 1411.88,1059.1 1419.38,1072.4 1426.88,1071.1 1434.37,1043.1 1441.86,1067.1 1449.36,1087.8 1456.86,1074.5 1464.35,1041.1 1471.84,1083.1 1479.34,1055.1 1486.84,1081.1 1494.33,1061.4 1501.82,1080.5 1509.32,1074.5 1516.82,1077.1 1524.31,1080.5 1531.8,1048.4 1539.3,1038.4 1546.79,1087.1 1554.29,1069.8 1561.78,1053.5 1569.28,1086.5 1576.77,1080.5 1584.27,1059.8 1591.76,1082.5 1599.26,1086.5 1606.75,1051.1 1614.25,1051.8 1621.74,1087.8 1629.24,1072.4 1636.73,1073.8 1644.23,1060.4 1651.72,1073.1 1659.22,1075.1 1666.71,1044.4 1674.21,1079.8 1681.7,1061.8 1689.2,1076.5 1696.69,1071.8 1704.19,1068.4 1711.68,1049.8 1719.18,1089.8 1726.67,1090.5 1734.17,1081.8 1741.66,1051.1 1749.16,1040.4 1756.65,1083.6 1764.15,1084.5 1771.64,1086.3 1779.14,1072.7 1786.63,1059.2 1794.13,1075.1 1801.62,1043.8 1809.12,1083.5 1816.61,1097.2 1824.11,1047 1831.61,1068.6" fill="none" stroke="#ff7f0e" stroke-width="3.2" stroke-linejoin="round"/>
<g fill="#ff7f0e"><ellipse cx="1089.6" cy="961.6" rx="7.5" ry="7.4"/><ellipse cx="1097.09" cy="987.4" rx="7.5" ry="7.4"/><ellipse cx="1104.59" cy="1023.4" rx="7.5" ry="7.4"/><ellipse cx="1112.08" cy="1030.8" rx="7.5" ry="7.4"/><ellipse cx="1119.58" cy="1023.4" rx="7.5" ry="7.4"/><ellipse cx="1127.07" cy="1040.8" rx="7.5" ry="7.4"/><ellipse cx="1134.57" cy="1027.4" rx="7.5" ry="7.4"/><ellipse cx="1142.06" cy="1026.1" rx="7.5" ry="7.4"/><ellipse cx="1149.56" cy="1048.1" rx="7.5" ry="7.4"/><ellipse cx="1157.05" cy="1008.8" rx="7.5" ry="7.4"/><ellipse cx="1164.55" cy="1046.8" rx="7.5" ry="7.4"/><ellipse cx="1172.04" cy="1061.5" rx="7.5" ry="7.4"/><ellipse cx="1179.54" cy="1062.8" rx="7.5" ry="7.4"/><ellipse cx="1187.03" cy="1040.8" rx="7.5" ry="7.4"/><ellipse cx="1194.53" cy="1054.8" rx="7.5" ry="7.4"/><ellipse cx="1202.02" cy="1062.8" rx="7.5" ry="7.4"/><ellipse cx="1209.52" cy="1067.5" rx="7.5" ry="7.4"/><ellipse cx="1217.01" cy="1058.8" rx="7.5" ry="7.4"/><ellipse cx="1224.51" cy="1052.1" rx="7.5" ry="7.4"/><ellipse cx="1232" cy="1070.2" rx="7.5" ry="7.4"/><ellipse cx="1239.5" cy="1051.5" rx="7.5" ry="7.4"/><ellipse cx="1246.99" cy="1062.8" rx="7.5" ry="7.4"/><ellipse cx="1254.49" cy="1016.4" rx="7.5" ry="7.4"/><ellipse cx="1261.98" cy="1068.8" rx="7.5" ry="7.4"/><ellipse cx="1269.48" cy="1053.5" rx="7.5" ry="7.4"/><ellipse cx="1276.97" cy="1072.2" rx="7.5" ry="7.4"/><ellipse cx="1284.47" cy="1072.2" rx="7.5" ry="7.4"/><ellipse cx="1291.96" cy="1074.8" rx="7.5" ry="7.4"/><ellipse cx="1299.46" cy="1064.2" rx="7.5" ry="7.4"/><ellipse cx="1306.95" cy="1076.8" rx="7.5" ry="7.4"/><ellipse cx="1314.45" cy="1068" rx="7.5" ry="7.4"/><ellipse cx="1321.94" cy="1051" rx="7.5" ry="7.4"/><ellipse cx="1329.44" cy="1067.3" rx="7.5" ry="7.4"/><ellipse cx="1336.93" cy="1041.1" rx="7.5" ry="7.4"/><ellipse cx="1344.43" cy="1067.1" rx="7.5" ry="7.4"/><ellipse cx="1351.92" cy="1075.8" rx="7.5" ry="7.4"/><ellipse cx="1359.42" cy="1079.8" rx="7.5" ry="7.4"/><ellipse cx="1366.91" cy="1070.4" rx="7.5" ry="7.4"/><ellipse cx="1374.41" cy="1077.8" rx="7.5" ry="7.4"/><ellipse cx="1381.9" cy="1081.1" rx="7.5" ry="7.4"/><ellipse cx="1389.4" cy="1059.8" rx="7.5" ry="7.4"/><ellipse cx="1396.89" cy="1055.1" rx="7.5" ry="7.4"/><ellipse cx="1404.39" cy="1035.7" rx="7.5" ry="7.4"/><ellipse cx="1411.88" cy="1059.1" rx="7.5" ry="7.4"/><ellipse cx="1419.38" cy="1072.4" rx="7.5" ry="7.4"/><ellipse cx="1426.88" cy="1071.1" rx="7.5" ry="7.4"/><ellipse cx="1434.37" cy="1043.1" rx="7.5" ry="7.4"/><ellipse cx="1441.86" cy="1067.1" rx="7.5" ry="7.4"/><ellipse cx="1449.36" cy="1087.8" rx="7.5" ry="7.4"/><ellipse cx="1456.86" cy="1074.5" rx="7.5" ry="7.4"/><ellipse cx="1464.35" cy="1041.1" rx="7.5" ry="7.4"/><ellipse cx="1471.84" cy="1083.1" rx="7.5" ry="7.4"/><ellipse cx="1479.34" cy="1055.1" rx="7.5" ry="7.4"/><ellipse cx="1486.84" cy="1081.1" rx="7.5" ry="7.4"/><ellipse cx="1494.33" cy="1061.4" rx="7.5" ry="7.4"/><ellipse cx="1501.82" cy="1080.5" rx="7.5" ry="7.4"/><ellipse cx="1509.32" cy="1074.5" rx="7.5" ry="7.4"/><ellipse cx="1516.82" cy="1077.1" rx="7.5" ry="7.4"/><ellipse cx="1524.31" cy="1080.5" rx="7.5" ry="7.4"/><ellipse cx="1531.8" cy="1048.4" rx="7.5" ry="7.4"/><ellipse cx="1539.3" cy="1038.4" rx="7.5" ry="7.4"/><ellipse cx="1546.79" cy="1087.1" rx="7.5" ry="7.4"/><ellipse cx="1554.29" cy="1069.8" rx="7.5" ry="7.4"/><ellipse cx="1561.78" cy="1053.5" rx="7.5" ry="7.4"/><ellipse cx="1569.28" cy="1086.5" rx="7.5" ry="7.4"/><ellipse cx="1576.77" cy="1080.5" rx="7.5" ry="7.4"/><ellipse cx="1584.27" cy="1059.8" rx="7.5" ry="7.4"/><ellipse cx="1591.76" cy="1082.5" rx="7.5" ry="7.4"/><ellipse cx="1599.26" cy="1086.5" rx="7.5" ry="7.4"/><ellipse cx="1606.75" cy="1051.1" rx="7.5" ry="7.4"/><ellipse cx="1614.25" cy="1051.8" rx="7.5" ry="7.4"/><ellipse cx="1621.74" cy="1087.8" rx="7.5" ry="7.4"/><ellipse cx="1629.24" cy="1072.4" rx="7.5" ry="7.4"/><ellipse cx="1636.73" cy="1073.8" rx="7.5" ry="7.4"/><ellipse cx="1644.23" cy="1060.4" rx="7.5" ry="7.4"/><ellipse cx="1651.72" cy="1073.1" rx="7.5" ry="7.4"/><ellipse cx="1659.22" cy="1075.1" rx="7.5" ry="7.4"/><ellipse cx="1666.71" cy="1044.4" rx="7.5" ry="7.4"/><ellipse cx="1674.21" cy="1079.8" rx="7.5" ry="7.4"/><ellipse cx="1681.7" cy="1061.8" rx="7.5" ry="7.4"/><ellipse cx="1689.2" cy="1076.5" rx="7.5" ry="7.4"/><ellipse cx="1696.69" cy="1071.8" rx="7.5" ry="7.4"/><ellipse cx="1704.19" cy="1068.4" rx="7.5" ry="7.4"/><ellipse cx="1711.68" cy="1049.8" rx="7.5" ry="7.4"/><ellipse cx="1719.18" cy="1089.8" rx="7.5" ry="7.4"/><ellipse cx="1726.67" cy="1090.5" rx="7.5" ry="7.4"/><ellipse cx="1734.17" cy="1081.8" rx="7.5" ry="7.4"/><ellipse cx="1741.66" cy="1051.1" rx="7.5" ry="7.4"/><ellipse cx="1749.16" cy="1040.4" rx="7.5" ry="7.4"/><ellipse cx="1756.65" cy="1083.6" rx="7.5" ry="7.4"/><ellipse cx="1764.15" cy="1084.5" rx="7.5" ry="7.4"/><ellipse cx="1771.64" cy="1086.3" rx="7.5" ry="7.4"/><ellipse cx="1779.14" cy="1072.7" rx="7.5" ry="7.4"/><ellipse cx="1786.63" cy="1059.2" rx="7.5" ry="7.4"/><ellipse cx="1794.13" cy="1075.1" rx="7.5" ry="7.4"/><ellipse cx="1801.62" cy="1043.8" rx="7.5" ry="7.4"/><ellipse cx="1809.12" cy="1083.5" rx="7.5" ry="7.4"/><ellipse cx="1816.61" cy="1097.2" rx="7.5" ry="7.4"/><ellipse cx="1824.11" cy="1047" rx="7.5" ry="7.4"/><ellipse cx="1831.61" cy="1068.6" rx="7.5" ry="7.4"/></g>
<path d="M1089.6 1148.9v7.8M1239.5 1148.9v7.8M1389.4 1148.9v7.8M1539.3 1148.9v7.8M1689.2 1148.9v7.8M1839.1 1148.9v7.8M1052.6 1141.7h-7.8M1052.6 1086.06h-7.8M1052.6 1030.42h-7.8M1052.6 974.78h-7.8M1052.6 919.14h-7.8M1052.6 863.5h-7.8M1052.6 807.86h-7.8M1052.6 752.22h-7.8M1052.6 696.58h-7.8" stroke="#000" stroke-width="1.85" fill="none"/>
<rect x="1052.6" y="661.4" width="816.1" height="487.5" fill="none" stroke="#000" stroke-width="1.9"/>
<text transform="translate(1089.6,1180.6) scale(1,0.98)" text-anchor="middle" font-size="21.5">0</text>
<text transform="translate(1239.5,1180.6) scale(1,0.98)" text-anchor="middle" font-size="21.5">20</text>
<text transform="translate(1389.4,1180.6) scale(1,0.98)" text-anchor="middle" font-size="21.5">40</text>
<text transform="translate(1539.3,1180.6) scale(1,0.98)" text-anchor="middle" font-size="21.5">60</text>
<text transform="translate(1689.2,1180.6) scale(1,0.98)" text-anchor="middle" font-size="21.5">80</text>
<text transform="translate(1839.1,1180.6) scale(1,0.98)" text-anchor="middle" font-size="21.5">100</text>
<text transform="translate(1036.3,1149.6) scale(1,0.98)" text-anchor="end" font-size="21.5">0.2</text>
<text transform="translate(1036.3,1093.96) scale(1,0.98)" text-anchor="end" font-size="21.5">0.3</text>
<text transform="translate(1036.3,1038.32) scale(1,0.98)" text-anchor="end" font-size="21.5">0.4</text>
<text transform="translate(1036.3,982.68) scale(1,0.98)" text-anchor="end" font-size="21.5">0.5</text>
<text transform="translate(1036.3,927.04) scale(1,0.98)" text-anchor="end" font-size="21.5">0.6</text>
<text transform="translate(1036.3,871.4) scale(1,0.98)" text-anchor="end" font-size="21.5">0.7</text>
<text transform="translate(1036.3,815.76) scale(1,0.98)" text-anchor="end" font-size="21.5">0.8</text>
<text transform="translate(1036.3,760.12) scale(1,0.98)" text-anchor="end" font-size="21.5">0.9</text>
<text transform="translate(1036.3,704.48) scale(1,0.98)" text-anchor="end" font-size="21.5">1.0</text>
<text transform="translate(1460.65,1211) scale(1,0.98)" text-anchor="middle" font-size="21.5">Epoch</text>
<text transform="translate(991.1,907.2) scale(1,0.98) rotate(-90)" text-anchor="middle" font-size="21.5" letter-spacing="0.55">Loss</text>
<rect x="1617.6" y="672.3" width="240" height="70.7" rx="4.3" ry="4.3" fill="#fff" fill-opacity="0.8" stroke="#d2d2d2" stroke-width="1.9"/>
<path d="M1625.2 689.9H1671.5" stroke="#1f77b4" stroke-width="3.2"/>
<ellipse cx="1649.1" cy="689.9" rx="7.5" ry="7.4" fill="#1f77b4"/>
<text transform="translate(1687.8,697.1) scale(1,0.98)" text-anchor="start" font-size="21.5">Training Loss</text>
<path d="M1625.2 722.1H1671.5" stroke="#ff7f0e" stroke-width="3.2"/>
<ellipse cx="1649.1" cy="722.1" rx="7.5" ry="7.4" fill="#ff7f0e"/>
<text transform="translate(1687.8,729.8) scale(1,0.98)" text-anchor="start" font-size="21.5">Validation Loss</text>
</g>
<path d="M0 0H1910V1275H0ZM2.2 1.9V1272.7H1907.5V1.9Z" fill="#000" fill-rule="evenodd"/>
<path d="M0 615.85H1910" stroke="#000" stroke-width="2.35"/>
<path d="M0 656.3H1910" stroke="#000" stroke-width="2.35"/>
<path d="M0 1233.2H1910" stroke="#000" stroke-width="2.35"/>
<text x="973.0" y="648.7" text-anchor="middle" class="cap" font-size="33.1">(a)</text>
<text x="973.9" y="1267.3" text-anchor="middle" class="cap" font-size="33.1">(b)</text>
</g>
</svg>
</body></html>
